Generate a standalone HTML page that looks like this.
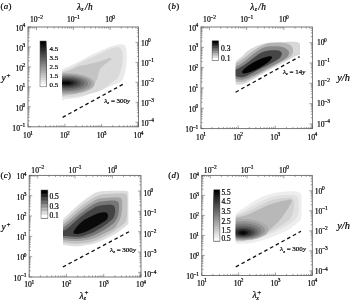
<!DOCTYPE html><html><head><meta charset="utf-8"><style>html,body{margin:0;padding:0;background:#fff;}svg{display:block;filter:grayscale(1);}text{stroke:#000;stroke-width:0.2px;}</style></head><body>
<svg width="350" height="301" viewBox="0 0 350 301" font-family='"Liberation Serif", serif'>
<rect width="350" height="301" fill="#fff"/>
<defs>
<clipPath id="cpa"><rect x="62.3" y="27" width="67.70" height="100.00"/></clipPath>
<clipPath id="cpb"><rect x="235.7" y="27" width="64.30" height="101.60"/></clipPath>
<clipPath id="cpc"><rect x="63.0" y="175.4" width="65.40" height="101.60"/></clipPath>
<clipPath id="cpd"><rect x="235.8" y="175.4" width="65.80" height="100.10"/></clipPath>
</defs>
<g clip-path="url(#cpa)" stroke="none">
<path d="M58.00 69.50 L58.18 68.44 L58.39 67.75 L58.62 67.38 L58.89 67.26 L59.18 67.35 L59.50 67.58 L59.85 67.91 L60.22 68.27 L60.62 68.62 L61.06 68.89 L61.51 69.04 L62.00 69.00 L62.52 68.84 L63.08 68.65 L63.67 68.45 L64.30 68.23 L64.95 67.98 L65.62 67.72 L66.32 67.45 L67.04 67.16 L67.77 66.86 L68.50 66.55 L69.25 66.23 L70.00 65.90 L70.76 65.56 L71.55 65.19 L72.36 64.82 L73.19 64.42 L74.02 64.02 L74.88 63.60 L75.73 63.18 L76.59 62.74 L77.45 62.31 L78.31 61.87 L79.16 61.44 L80.00 61.00 L80.83 60.56 L81.67 60.11 L82.50 59.64 L83.33 59.17 L84.17 58.70 L85.00 58.23 L85.83 57.75 L86.67 57.28 L87.50 56.82 L88.33 56.37 L89.17 55.93 L90.00 55.50 L90.84 55.09 L91.69 54.68 L92.55 54.28 L93.41 53.89 L94.27 53.50 L95.12 53.12 L95.98 52.75 L96.81 52.38 L97.64 52.02 L98.45 51.67 L99.24 51.33 L100.00 51.00 L100.74 50.68 L101.45 50.36 L102.15 50.05 L102.82 49.76 L103.49 49.46 L104.14 49.18 L104.78 48.90 L105.42 48.63 L106.06 48.37 L106.70 48.11 L107.35 47.85 L108.00 47.60 L108.67 47.35 L109.34 47.10 L110.03 46.85 L110.72 46.61 L111.41 46.37 L112.09 46.14 L112.76 45.92 L113.41 45.70 L114.05 45.50 L114.66 45.32 L115.25 45.15 L115.80 45.00 L116.32 44.86 L116.81 44.74 L117.28 44.63 L117.73 44.53 L118.16 44.44 L118.57 44.37 L118.96 44.31 L119.35 44.26 L119.72 44.22 L120.09 44.20 L120.44 44.19 L120.80 44.20 L121.15 44.22 L121.49 44.25 L121.82 44.30 L122.14 44.36 L122.45 44.43 L122.74 44.52 L123.03 44.62 L123.31 44.73 L123.57 44.85 L123.83 44.99 L124.07 45.14 L124.30 45.30 L124.52 45.47 L124.72 45.65 L124.92 45.83 L125.10 46.03 L125.27 46.23 L125.43 46.46 L125.58 46.69 L125.72 46.95 L125.85 47.23 L125.98 47.53 L126.09 47.85 L126.20 48.20 L126.30 48.57 L126.38 48.97 L126.46 49.39 L126.53 49.84 L126.58 50.30 L126.63 50.78 L126.67 51.28 L126.71 51.80 L126.74 52.33 L126.76 52.87 L126.78 53.43 L126.80 54.00 L126.81 54.59 L126.82 55.22 L126.82 55.88 L126.81 56.56 L126.80 57.25 L126.79 57.96 L126.77 58.66 L126.74 59.36 L126.71 60.05 L126.68 60.73 L126.64 61.38 L126.60 62.00 L126.56 62.60 L126.51 63.18 L126.45 63.75 L126.39 64.31 L126.33 64.87 L126.26 65.41 L126.19 65.94 L126.12 66.46 L126.04 66.98 L125.96 67.49 L125.88 68.00 L125.80 68.50 L125.72 68.99 L125.63 69.48 L125.54 69.95 L125.45 70.41 L125.36 70.87 L125.26 71.32 L125.16 71.77 L125.06 72.21 L124.95 72.66 L124.84 73.10 L124.72 73.55 L124.60 74.00 L124.48 74.46 L124.35 74.93 L124.23 75.41 L124.10 75.90 L123.97 76.38 L123.83 76.86 L123.69 77.33 L123.53 77.78 L123.37 78.22 L123.19 78.64 L123.00 79.03 L122.80 79.40 L122.59 79.73 L122.38 80.04 L122.16 80.32 L121.93 80.59 L121.70 80.83 L121.45 81.06 L121.18 81.29 L120.90 81.50 L120.59 81.72 L120.26 81.94 L119.90 82.16 L119.50 82.40 L119.08 82.63 L118.65 82.86 L118.20 83.07 L117.73 83.27 L117.23 83.48 L116.71 83.69 L116.16 83.90 L115.59 84.13 L114.97 84.36 L114.32 84.62 L113.63 84.90 L112.90 85.20 L112.11 85.53 L111.27 85.90 L110.37 86.29 L109.43 86.70 L108.45 87.12 L107.45 87.55 L106.43 87.98 L105.41 88.41 L104.38 88.84 L103.37 89.25 L102.37 89.64 L101.40 90.00 L100.43 90.34 L99.44 90.68 L98.44 91.00 L97.43 91.31 L96.42 91.62 L95.42 91.91 L94.43 92.20 L93.47 92.49 L92.54 92.77 L91.64 93.05 L90.80 93.32 L90.00 93.60 L89.27 93.87 L88.59 94.15 L87.96 94.42 L87.38 94.69 L86.82 94.95 L86.29 95.21 L85.76 95.47 L85.24 95.71 L84.72 95.95 L84.17 96.18 L83.60 96.39 L83.00 96.60 L82.37 96.80 L81.74 96.98 L81.09 97.16 L80.44 97.33 L79.79 97.49 L79.12 97.64 L78.45 97.79 L77.78 97.93 L77.09 98.06 L76.40 98.18 L75.70 98.29 L75.00 98.40 L74.28 98.50 L73.55 98.59 L72.80 98.66 L72.04 98.73 L71.27 98.79 L70.50 98.85 L69.73 98.90 L68.96 98.94 L68.20 98.99 L67.45 99.03 L66.72 99.06 L66.00 99.10 L65.27 99.23 L64.52 99.51 L63.74 99.89 L62.96 100.31 L62.19 100.74 L61.44 101.11 L60.72 101.37 L60.04 101.47 L59.41 101.37 L58.86 101.01 L58.38 100.34 L58.00 99.30 L57.71 97.77 L57.49 95.73 L57.34 93.27 L57.26 90.50 L57.23 87.53 L57.25 84.44 L57.31 81.36 L57.41 78.37 L57.53 75.59 L57.68 73.12 L57.83 71.05Z" fill="#eaeaea"/>
<path d="M58.00 71.00 L58.18 70.07 L58.39 69.48 L58.62 69.16 L58.89 69.08 L59.18 69.18 L59.50 69.41 L59.85 69.73 L60.22 70.07 L60.62 70.40 L61.06 70.67 L61.51 70.82 L62.00 70.80 L62.52 70.68 L63.08 70.54 L63.67 70.38 L64.30 70.21 L64.95 70.02 L65.62 69.81 L66.32 69.59 L67.04 69.35 L67.77 69.09 L68.50 68.81 L69.25 68.52 L70.00 68.20 L70.76 67.86 L71.55 67.48 L72.36 67.07 L73.19 66.64 L74.03 66.20 L74.88 65.74 L75.74 65.27 L76.60 64.80 L77.46 64.33 L78.32 63.87 L79.16 63.43 L80.00 63.00 L80.83 62.59 L81.65 62.17 L82.48 61.77 L83.30 61.36 L84.12 60.96 L84.94 60.56 L85.77 60.17 L86.59 59.77 L87.41 59.38 L88.24 58.98 L89.07 58.59 L89.90 58.20 L90.74 57.81 L91.58 57.42 L92.42 57.04 L93.26 56.65 L94.11 56.27 L94.96 55.89 L95.80 55.51 L96.65 55.13 L97.49 54.75 L98.33 54.36 L99.17 53.98 L100.00 53.60 L100.84 53.21 L101.70 52.80 L102.58 52.38 L103.46 51.96 L104.34 51.53 L105.21 51.11 L106.06 50.70 L106.89 50.31 L107.68 49.94 L108.44 49.59 L109.15 49.28 L109.80 49.00 L110.40 48.76 L110.95 48.54 L111.46 48.35 L111.93 48.19 L112.36 48.04 L112.78 47.91 L113.17 47.80 L113.54 47.70 L113.91 47.62 L114.27 47.54 L114.63 47.47 L115.00 47.40 L115.37 47.34 L115.73 47.28 L116.08 47.24 L116.42 47.21 L116.75 47.19 L117.07 47.17 L117.38 47.18 L117.68 47.19 L117.97 47.22 L118.26 47.27 L118.53 47.32 L118.80 47.40 L119.06 47.49 L119.31 47.60 L119.55 47.72 L119.78 47.86 L120.00 48.01 L120.21 48.18 L120.42 48.35 L120.61 48.54 L120.80 48.74 L120.97 48.95 L121.14 49.17 L121.30 49.40 L121.45 49.63 L121.59 49.87 L121.71 50.11 L121.83 50.36 L121.94 50.61 L122.04 50.89 L122.14 51.18 L122.22 51.49 L122.30 51.82 L122.37 52.18 L122.44 52.58 L122.50 53.00 L122.56 53.46 L122.60 53.97 L122.65 54.51 L122.68 55.08 L122.71 55.68 L122.73 56.29 L122.75 56.91 L122.75 57.54 L122.75 58.17 L122.74 58.79 L122.73 59.41 L122.70 60.00 L122.67 60.59 L122.62 61.18 L122.57 61.77 L122.51 62.37 L122.45 62.97 L122.38 63.56 L122.29 64.15 L122.21 64.74 L122.11 65.32 L122.01 65.89 L121.91 66.45 L121.80 67.00 L121.68 67.54 L121.56 68.06 L121.44 68.58 L121.30 69.10 L121.16 69.60 L121.02 70.10 L120.87 70.59 L120.71 71.08 L120.54 71.57 L120.37 72.05 L120.19 72.52 L120.00 73.00 L119.81 73.48 L119.62 73.95 L119.43 74.42 L119.23 74.90 L119.03 75.36 L118.81 75.83 L118.59 76.28 L118.35 76.73 L118.09 77.16 L117.82 77.59 L117.52 78.00 L117.20 78.40 L116.87 78.77 L116.53 79.11 L116.19 79.41 L115.84 79.70 L115.47 79.98 L115.08 80.26 L114.66 80.55 L114.21 80.85 L113.73 81.18 L113.20 81.54 L112.63 81.95 L112.00 82.40 L111.31 82.92 L110.57 83.50 L109.77 84.14 L108.93 84.81 L108.05 85.50 L107.14 86.21 L106.21 86.92 L105.27 87.61 L104.32 88.28 L103.37 88.91 L102.43 89.49 L101.50 90.00 L100.58 90.45 L99.64 90.87 L98.70 91.25 L97.75 91.59 L96.79 91.91 L95.83 92.21 L94.86 92.49 L93.89 92.76 L92.91 93.02 L91.94 93.28 L90.97 93.54 L90.00 93.80 L89.02 94.06 L88.02 94.32 L87.01 94.58 L85.99 94.82 L84.97 95.06 L83.95 95.29 L82.94 95.51 L81.96 95.71 L80.99 95.90 L80.06 96.08 L79.16 96.25 L78.30 96.40 L77.49 96.53 L76.72 96.65 L75.98 96.74 L75.27 96.83 L74.59 96.90 L73.92 96.96 L73.26 97.01 L72.62 97.05 L71.97 97.09 L71.33 97.13 L70.67 97.16 L70.00 97.20 L69.31 97.23 L68.60 97.26 L67.89 97.27 L67.16 97.29 L66.44 97.29 L65.73 97.29 L65.03 97.29 L64.36 97.29 L63.71 97.29 L63.10 97.29 L62.53 97.29 L62.00 97.30 L61.51 97.39 L61.06 97.62 L60.62 97.95 L60.22 98.31 L59.85 98.68 L59.50 99.01 L59.18 99.24 L58.89 99.33 L58.62 99.24 L58.39 98.92 L58.18 98.32 L58.00 97.40 L57.85 96.04 L57.72 94.23 L57.62 92.05 L57.56 89.59 L57.51 86.95 L57.50 84.22 L57.51 81.48 L57.56 78.84 L57.62 76.38 L57.72 74.19 L57.85 72.37Z" fill="#dadada"/>
<path d="M58.00 72.40 L58.18 71.59 L58.39 71.07 L58.62 70.80 L58.89 70.73 L59.18 70.82 L59.50 71.03 L59.85 71.31 L60.22 71.63 L60.62 71.92 L61.06 72.17 L61.51 72.30 L62.00 72.30 L62.53 72.20 L63.10 72.09 L63.72 71.96 L64.37 71.81 L65.05 71.65 L65.75 71.48 L66.46 71.30 L67.19 71.10 L67.91 70.89 L68.62 70.67 L69.32 70.44 L70.00 70.20 L70.67 69.94 L71.34 69.64 L72.02 69.31 L72.70 68.97 L73.37 68.62 L74.05 68.26 L74.72 67.90 L75.39 67.55 L76.06 67.22 L76.71 66.91 L77.36 66.64 L78.00 66.40 L78.63 66.20 L79.24 66.03 L79.84 65.89 L80.44 65.77 L81.03 65.67 L81.61 65.58 L82.20 65.49 L82.79 65.41 L83.38 65.32 L83.97 65.23 L84.58 65.12 L85.20 65.00 L85.83 64.87 L86.46 64.73 L87.09 64.59 L87.73 64.45 L88.37 64.31 L89.02 64.16 L89.67 64.01 L90.33 63.86 L90.99 63.70 L91.65 63.54 L92.32 63.37 L93.00 63.20 L93.69 63.02 L94.42 62.83 L95.16 62.63 L95.91 62.42 L96.67 62.21 L97.42 62.00 L98.17 61.79 L98.90 61.58 L99.60 61.37 L100.28 61.17 L100.91 60.98 L101.50 60.80 L102.04 60.63 L102.55 60.46 L103.03 60.29 L103.49 60.13 L103.91 59.97 L104.32 59.81 L104.71 59.66 L105.08 59.52 L105.44 59.38 L105.80 59.25 L106.15 59.12 L106.50 59.00 L106.84 58.88 L107.18 58.77 L107.50 58.65 L107.81 58.54 L108.12 58.44 L108.41 58.34 L108.68 58.25 L108.95 58.17 L109.21 58.10 L109.45 58.05 L109.68 58.02 L109.90 58.00 L110.12 58.00 L110.34 58.01 L110.56 58.03 L110.77 58.06 L110.97 58.10 L111.16 58.16 L111.32 58.23 L111.45 58.32 L111.55 58.42 L111.61 58.53 L111.63 58.66 L111.60 58.80 L111.52 58.96 L111.39 59.13 L111.22 59.33 L111.01 59.53 L110.77 59.75 L110.50 59.99 L110.20 60.23 L109.89 60.49 L109.56 60.75 L109.21 61.03 L108.86 61.31 L108.50 61.60 L108.12 61.90 L107.70 62.22 L107.24 62.56 L106.76 62.91 L106.26 63.27 L105.76 63.64 L105.25 64.01 L104.75 64.38 L104.27 64.75 L103.81 65.11 L103.39 65.46 L103.00 65.80 L102.65 66.13 L102.32 66.44 L102.00 66.75 L101.70 67.05 L101.42 67.35 L101.16 67.65 L100.90 67.95 L100.66 68.26 L100.43 68.57 L100.21 68.90 L100.00 69.24 L99.80 69.60 L99.61 69.97 L99.44 70.36 L99.29 70.76 L99.15 71.16 L99.02 71.58 L98.90 72.00 L98.79 72.43 L98.67 72.86 L98.56 73.29 L98.45 73.73 L98.33 74.17 L98.20 74.60 L98.07 75.04 L97.95 75.48 L97.84 75.94 L97.73 76.39 L97.61 76.85 L97.50 77.31 L97.38 77.77 L97.25 78.23 L97.11 78.68 L96.96 79.13 L96.79 79.57 L96.60 80.00 L96.41 80.42 L96.22 80.82 L96.03 81.22 L95.84 81.61 L95.63 82.00 L95.41 82.38 L95.17 82.77 L94.90 83.16 L94.59 83.55 L94.24 83.95 L93.85 84.37 L93.40 84.80 L92.90 85.25 L92.35 85.72 L91.75 86.21 L91.11 86.71 L90.44 87.22 L89.74 87.73 L89.01 88.24 L88.27 88.73 L87.51 89.21 L86.74 89.67 L85.97 90.10 L85.20 90.50 L84.42 90.88 L83.60 91.23 L82.76 91.58 L81.90 91.91 L81.03 92.22 L80.15 92.52 L79.27 92.80 L78.39 93.07 L77.51 93.32 L76.65 93.56 L75.81 93.79 L75.00 94.00 L74.20 94.19 L73.42 94.37 L72.64 94.53 L71.87 94.67 L71.11 94.79 L70.36 94.91 L69.62 95.01 L68.88 95.10 L68.15 95.18 L67.43 95.26 L66.71 95.33 L66.00 95.40 L65.27 95.53 L64.52 95.77 L63.74 96.08 L62.96 96.42 L62.19 96.75 L61.44 97.04 L60.72 97.24 L60.04 97.31 L59.41 97.22 L58.86 96.93 L58.38 96.41 L58.00 95.60 L57.71 94.41 L57.49 92.82 L57.34 90.90 L57.26 88.74 L57.23 86.42 L57.25 84.02 L57.31 81.61 L57.41 79.29 L57.53 77.12 L57.68 75.20 L57.83 73.60Z" fill="#c4c4c4"/>
<path d="M94.50 83.70 L94.44 84.39 L94.26 85.07 L93.95 85.75 L93.53 86.42 L92.99 87.08 L92.33 87.72 L91.56 88.34 L90.68 88.95 L89.70 89.53 L88.61 90.09 L87.43 90.62 L86.15 91.12 L84.79 91.59 L83.35 92.03 L81.83 92.43 L80.25 92.79 L78.61 93.12 L76.91 93.40 L75.16 93.64 L73.38 93.84 L71.56 94.00 L69.72 94.11 L67.86 94.18 L66.00 94.20 L64.14 94.18 L62.28 94.11 L60.44 94.00 L58.62 93.84 L56.84 93.64 L55.09 93.40 L53.39 93.12 L51.75 92.79 L50.17 92.43 L48.65 92.03 L47.21 91.59 L45.85 91.12 L44.57 90.62 L43.39 90.09 L42.30 89.53 L41.32 88.95 L40.44 88.34 L39.67 87.72 L39.01 87.08 L38.47 86.42 L38.05 85.75 L37.74 85.07 L37.56 84.39 L37.50 83.70 L37.56 83.01 L37.74 82.33 L38.05 81.65 L38.47 80.98 L39.01 80.32 L39.67 79.68 L40.44 79.06 L41.32 78.45 L42.30 77.87 L43.39 77.31 L44.57 76.78 L45.85 76.28 L47.21 75.81 L48.65 75.37 L50.17 74.97 L51.75 74.61 L53.39 74.28 L55.09 74.00 L56.84 73.76 L58.62 73.56 L60.44 73.40 L62.28 73.29 L64.14 73.22 L66.00 73.20 L67.86 73.22 L69.72 73.29 L71.56 73.40 L73.38 73.56 L75.16 73.76 L76.91 74.00 L78.61 74.28 L80.25 74.61 L81.83 74.97 L83.35 75.37 L84.79 75.81 L86.15 76.28 L87.43 76.78 L88.61 77.31 L89.70 77.87 L90.68 78.45 L91.56 79.06 L92.33 79.68 L92.99 80.32 L93.53 80.98 L93.95 81.65 L94.26 82.33 L94.44 83.01Z" fill="#acacac"/>
<path d="M91.30 83.55 L91.25 84.15 L91.08 84.74 L90.81 85.34 L90.44 85.92 L89.96 86.49 L89.37 87.05 L88.69 87.60 L87.91 88.13 L87.04 88.63 L86.07 89.12 L85.02 89.58 L83.89 90.02 L82.68 90.43 L81.40 90.81 L80.06 91.16 L78.65 91.47 L77.19 91.76 L75.68 92.00 L74.13 92.21 L72.55 92.39 L70.94 92.52 L69.30 92.62 L67.65 92.68 L66.00 92.70 L64.35 92.68 L62.70 92.62 L61.06 92.52 L59.45 92.39 L57.87 92.21 L56.32 92.00 L54.81 91.76 L53.35 91.47 L51.94 91.16 L50.60 90.81 L49.32 90.43 L48.11 90.02 L46.98 89.58 L45.93 89.12 L44.96 88.63 L44.09 88.13 L43.31 87.60 L42.63 87.05 L42.04 86.49 L41.56 85.92 L41.19 85.34 L40.92 84.74 L40.75 84.15 L40.70 83.55 L40.75 82.95 L40.92 82.36 L41.19 81.76 L41.56 81.18 L42.04 80.61 L42.63 80.05 L43.31 79.50 L44.09 78.98 L44.96 78.47 L45.93 77.98 L46.98 77.52 L48.11 77.08 L49.32 76.67 L50.60 76.29 L51.94 75.94 L53.35 75.63 L54.81 75.34 L56.32 75.10 L57.87 74.89 L59.45 74.71 L61.06 74.58 L62.70 74.48 L64.35 74.42 L66.00 74.40 L67.65 74.42 L69.30 74.48 L70.94 74.58 L72.55 74.71 L74.13 74.89 L75.68 75.10 L77.19 75.34 L78.65 75.63 L80.06 75.94 L81.40 76.29 L82.68 76.67 L83.89 77.08 L85.02 77.52 L86.07 77.98 L87.04 78.47 L87.91 78.98 L88.69 79.50 L89.37 80.05 L89.96 80.61 L90.44 81.18 L90.81 81.76 L91.08 82.36 L91.25 82.95Z" fill="#969696"/>
<path d="M88.00 83.40 L87.95 83.91 L87.81 84.42 L87.58 84.92 L87.25 85.42 L86.83 85.91 L86.33 86.38 L85.73 86.85 L85.05 87.30 L84.29 87.73 L83.45 88.15 L82.54 88.54 L81.56 88.92 L80.51 89.26 L79.39 89.59 L78.22 89.89 L77.00 90.15 L75.73 90.40 L74.42 90.61 L73.07 90.79 L71.69 90.93 L70.29 91.05 L68.87 91.13 L67.44 91.18 L66.00 91.20 L64.56 91.18 L63.13 91.13 L61.71 91.05 L60.31 90.93 L58.93 90.79 L57.58 90.61 L56.27 90.40 L55.00 90.15 L53.78 89.89 L52.61 89.59 L51.49 89.26 L50.44 88.92 L49.46 88.54 L48.55 88.15 L47.71 87.73 L46.95 87.30 L46.27 86.85 L45.67 86.38 L45.17 85.91 L44.75 85.42 L44.42 84.92 L44.19 84.42 L44.05 83.91 L44.00 83.40 L44.05 82.89 L44.19 82.38 L44.42 81.88 L44.75 81.38 L45.17 80.89 L45.67 80.42 L46.27 79.95 L46.95 79.50 L47.71 79.07 L48.55 78.65 L49.46 78.26 L50.44 77.88 L51.49 77.54 L52.61 77.21 L53.78 76.91 L55.00 76.65 L56.27 76.40 L57.58 76.19 L58.93 76.01 L60.31 75.87 L61.71 75.75 L63.13 75.67 L64.56 75.62 L66.00 75.60 L67.44 75.62 L68.87 75.67 L70.29 75.75 L71.69 75.87 L73.07 76.01 L74.42 76.19 L75.73 76.40 L77.00 76.65 L78.22 76.91 L79.39 77.21 L80.51 77.54 L81.56 77.88 L82.54 78.26 L83.45 78.65 L84.29 79.07 L85.05 79.50 L85.73 79.95 L86.33 80.42 L86.83 80.89 L87.25 81.38 L87.58 81.88 L87.81 82.38 L87.95 82.89Z" fill="#7e7e7e"/>
<path d="M84.50 83.25 L84.46 83.67 L84.34 84.09 L84.14 84.51 L83.87 84.92 L83.52 85.32 L83.09 85.72 L82.59 86.10 L82.02 86.47 L81.38 86.83 L80.68 87.18 L79.91 87.50 L79.08 87.81 L78.20 88.10 L77.26 88.37 L76.28 88.61 L75.25 88.84 L74.18 89.03 L73.08 89.21 L71.95 89.36 L70.79 89.48 L69.61 89.58 L68.41 89.64 L67.21 89.69 L66.00 89.70 L64.79 89.69 L63.59 89.64 L62.39 89.58 L61.21 89.48 L60.05 89.36 L58.92 89.21 L57.82 89.03 L56.75 88.84 L55.72 88.61 L54.74 88.37 L53.80 88.10 L52.92 87.81 L52.09 87.50 L51.32 87.18 L50.62 86.83 L49.98 86.48 L49.41 86.10 L48.91 85.72 L48.48 85.32 L48.13 84.92 L47.86 84.51 L47.66 84.09 L47.54 83.67 L47.50 83.25 L47.54 82.83 L47.66 82.41 L47.86 81.99 L48.13 81.58 L48.48 81.18 L48.91 80.78 L49.41 80.40 L49.98 80.03 L50.62 79.67 L51.32 79.32 L52.09 79.00 L52.92 78.69 L53.80 78.40 L54.74 78.13 L55.72 77.89 L56.75 77.66 L57.82 77.47 L58.92 77.29 L60.05 77.14 L61.21 77.02 L62.39 76.92 L63.59 76.86 L64.79 76.81 L66.00 76.80 L67.21 76.81 L68.41 76.86 L69.61 76.92 L70.79 77.02 L71.95 77.14 L73.08 77.29 L74.18 77.47 L75.25 77.66 L76.28 77.89 L77.26 78.13 L78.20 78.40 L79.08 78.69 L79.91 79.00 L80.68 79.32 L81.38 79.67 L82.02 80.02 L82.59 80.40 L83.09 80.78 L83.52 81.18 L83.87 81.58 L84.14 81.99 L84.34 82.41 L84.46 82.83Z" fill="#666666"/>
<path d="M81.00 83.10 L80.97 83.43 L80.87 83.77 L80.71 84.09 L80.49 84.42 L80.20 84.74 L79.86 85.05 L79.45 85.36 L78.99 85.65 L78.47 85.93 L77.90 86.20 L77.28 86.46 L76.61 86.71 L75.89 86.93 L75.13 87.15 L74.33 87.34 L73.50 87.52 L72.63 87.67 L71.74 87.81 L70.82 87.93 L69.88 88.03 L68.93 88.10 L67.96 88.16 L66.98 88.19 L66.00 88.20 L65.02 88.19 L64.04 88.16 L63.07 88.10 L62.12 88.03 L61.18 87.93 L60.26 87.81 L59.37 87.67 L58.50 87.52 L57.67 87.34 L56.87 87.15 L56.11 86.93 L55.39 86.71 L54.72 86.46 L54.10 86.20 L53.53 85.93 L53.01 85.65 L52.55 85.36 L52.14 85.05 L51.80 84.74 L51.51 84.42 L51.29 84.09 L51.13 83.77 L51.03 83.43 L51.00 83.10 L51.03 82.77 L51.13 82.43 L51.29 82.11 L51.51 81.78 L51.80 81.46 L52.14 81.15 L52.55 80.84 L53.01 80.55 L53.53 80.27 L54.10 80.00 L54.72 79.74 L55.39 79.49 L56.11 79.27 L56.87 79.05 L57.67 78.86 L58.50 78.68 L59.37 78.53 L60.26 78.39 L61.18 78.27 L62.12 78.17 L63.07 78.10 L64.04 78.04 L65.02 78.01 L66.00 78.00 L66.98 78.01 L67.96 78.04 L68.93 78.10 L69.88 78.17 L70.82 78.27 L71.74 78.39 L72.63 78.53 L73.50 78.68 L74.33 78.86 L75.13 79.05 L75.89 79.27 L76.61 79.49 L77.28 79.74 L77.90 80.00 L78.47 80.27 L78.99 80.55 L79.45 80.84 L79.86 81.15 L80.20 81.46 L80.49 81.78 L80.71 82.11 L80.87 82.43 L80.97 82.77Z" fill="#4e4e4e"/>
<path d="M77.50 83.00 L77.48 83.25 L77.40 83.50 L77.28 83.74 L77.11 83.98 L76.89 84.22 L76.62 84.45 L76.31 84.68 L75.96 84.90 L75.56 85.11 L75.12 85.31 L74.65 85.51 L74.13 85.69 L73.58 85.86 L73.00 86.01 L72.39 86.16 L71.75 86.29 L71.09 86.41 L70.40 86.51 L69.70 86.60 L68.98 86.67 L68.24 86.73 L67.50 86.77 L66.75 86.79 L66.00 86.80 L65.25 86.79 L64.50 86.77 L63.76 86.73 L63.02 86.67 L62.30 86.60 L61.60 86.51 L60.91 86.41 L60.25 86.29 L59.61 86.16 L59.00 86.01 L58.42 85.86 L57.87 85.69 L57.35 85.51 L56.88 85.31 L56.44 85.11 L56.04 84.90 L55.69 84.68 L55.38 84.45 L55.11 84.22 L54.89 83.98 L54.72 83.74 L54.60 83.50 L54.52 83.25 L54.50 83.00 L54.52 82.75 L54.60 82.50 L54.72 82.26 L54.89 82.02 L55.11 81.78 L55.38 81.55 L55.69 81.32 L56.04 81.10 L56.44 80.89 L56.88 80.69 L57.35 80.49 L57.87 80.31 L58.42 80.14 L59.00 79.99 L59.61 79.84 L60.25 79.71 L60.91 79.59 L61.60 79.49 L62.30 79.40 L63.02 79.33 L63.76 79.27 L64.50 79.23 L65.25 79.21 L66.00 79.20 L66.75 79.21 L67.50 79.23 L68.24 79.27 L68.98 79.33 L69.70 79.40 L70.40 79.49 L71.09 79.59 L71.75 79.71 L72.39 79.84 L73.00 79.99 L73.58 80.14 L74.13 80.31 L74.65 80.49 L75.12 80.69 L75.56 80.89 L75.96 81.10 L76.31 81.32 L76.62 81.55 L76.89 81.78 L77.11 82.02 L77.28 82.26 L77.40 82.50 L77.48 82.75Z" fill="#363636"/>
<path d="M74.00 82.95 L73.98 83.12 L73.93 83.28 L73.85 83.45 L73.73 83.61 L73.58 83.77 L73.39 83.93 L73.17 84.08 L72.93 84.22 L72.65 84.37 L72.35 84.50 L72.01 84.63 L71.66 84.75 L71.27 84.87 L70.87 84.97 L70.44 85.07 L70.00 85.16 L69.54 85.24 L69.06 85.31 L68.57 85.36 L68.07 85.41 L67.56 85.45 L67.04 85.48 L66.52 85.49 L66.00 85.50 L65.48 85.49 L64.96 85.48 L64.44 85.45 L63.93 85.41 L63.43 85.36 L62.94 85.31 L62.46 85.24 L62.00 85.16 L61.56 85.07 L61.13 84.97 L60.73 84.87 L60.34 84.75 L59.99 84.63 L59.65 84.50 L59.35 84.37 L59.07 84.23 L58.83 84.08 L58.61 83.93 L58.42 83.77 L58.27 83.61 L58.15 83.45 L58.07 83.28 L58.02 83.12 L58.00 82.95 L58.02 82.78 L58.07 82.62 L58.15 82.45 L58.27 82.29 L58.42 82.13 L58.61 81.97 L58.83 81.82 L59.07 81.68 L59.35 81.53 L59.65 81.40 L59.99 81.27 L60.34 81.15 L60.73 81.03 L61.13 80.93 L61.56 80.83 L62.00 80.74 L62.46 80.66 L62.94 80.59 L63.43 80.54 L63.93 80.49 L64.44 80.45 L64.96 80.42 L65.48 80.41 L66.00 80.40 L66.52 80.41 L67.04 80.42 L67.56 80.45 L68.07 80.49 L68.57 80.54 L69.06 80.59 L69.54 80.66 L70.00 80.74 L70.44 80.83 L70.87 80.93 L71.27 81.03 L71.66 81.15 L72.01 81.27 L72.35 81.40 L72.65 81.53 L72.93 81.67 L73.17 81.82 L73.39 81.97 L73.58 82.13 L73.73 82.29 L73.85 82.45 L73.93 82.62 L73.98 82.78Z" fill="#1e1e1e"/>
<path d="M71.00 83.10 L70.99 83.20 L70.96 83.30 L70.90 83.39 L70.83 83.49 L70.73 83.58 L70.62 83.67 L70.48 83.76 L70.33 83.85 L70.16 83.93 L69.97 84.01 L69.76 84.09 L69.54 84.16 L69.30 84.23 L69.04 84.29 L68.78 84.35 L68.50 84.40 L68.21 84.45 L67.91 84.49 L67.61 84.52 L67.29 84.55 L66.98 84.57 L66.65 84.59 L66.33 84.60 L66.00 84.60 L65.67 84.60 L65.35 84.59 L65.02 84.57 L64.71 84.55 L64.39 84.52 L64.09 84.49 L63.79 84.45 L63.50 84.40 L63.22 84.35 L62.96 84.29 L62.70 84.23 L62.46 84.16 L62.24 84.09 L62.03 84.01 L61.84 83.93 L61.67 83.85 L61.52 83.76 L61.38 83.67 L61.27 83.58 L61.17 83.49 L61.10 83.39 L61.04 83.30 L61.01 83.20 L61.00 83.10 L61.01 83.00 L61.04 82.90 L61.10 82.81 L61.17 82.71 L61.27 82.62 L61.38 82.53 L61.52 82.44 L61.67 82.35 L61.84 82.27 L62.03 82.19 L62.24 82.11 L62.46 82.04 L62.70 81.97 L62.96 81.91 L63.22 81.85 L63.50 81.80 L63.79 81.75 L64.09 81.71 L64.39 81.68 L64.71 81.65 L65.02 81.63 L65.35 81.61 L65.67 81.60 L66.00 81.60 L66.33 81.60 L66.65 81.61 L66.98 81.63 L67.29 81.65 L67.61 81.68 L67.91 81.71 L68.21 81.75 L68.50 81.80 L68.78 81.85 L69.04 81.91 L69.30 81.97 L69.54 82.04 L69.76 82.11 L69.97 82.19 L70.16 82.27 L70.33 82.35 L70.48 82.44 L70.62 82.53 L70.73 82.62 L70.83 82.71 L70.90 82.81 L70.96 82.90 L70.99 83.00Z" fill="#080808"/>
</g>
<g clip-path="url(#cpb)" stroke="none">
<path d="M231.00 64.50 L231.20 63.68 L231.45 63.08 L231.74 62.65 L232.07 62.37 L232.43 62.22 L232.81 62.16 L233.20 62.15 L233.59 62.18 L233.98 62.21 L234.34 62.21 L234.69 62.15 L235.00 62.00 L235.28 61.80 L235.54 61.61 L235.78 61.43 L236.00 61.25 L236.22 61.07 L236.44 60.89 L236.67 60.71 L236.90 60.51 L237.14 60.31 L237.40 60.09 L237.69 59.86 L238.00 59.60 L238.35 59.32 L238.72 59.02 L239.13 58.70 L239.55 58.37 L239.98 58.03 L240.42 57.67 L240.87 57.32 L241.31 56.96 L241.74 56.61 L242.15 56.26 L242.54 55.92 L242.90 55.60 L243.23 55.29 L243.53 54.97 L243.82 54.67 L244.08 54.36 L244.34 54.06 L244.59 53.76 L244.84 53.47 L245.10 53.17 L245.37 52.88 L245.65 52.58 L245.96 52.29 L246.30 52.00 L246.67 51.71 L247.05 51.41 L247.45 51.12 L247.87 50.82 L248.30 50.53 L248.74 50.24 L249.18 49.95 L249.63 49.67 L250.08 49.39 L250.52 49.12 L250.97 48.85 L251.40 48.60 L251.83 48.35 L252.26 48.11 L252.69 47.88 L253.12 47.64 L253.55 47.42 L253.98 47.20 L254.41 46.99 L254.85 46.78 L255.28 46.58 L255.72 46.38 L256.16 46.19 L256.60 46.00 L257.04 45.82 L257.48 45.65 L257.92 45.48 L258.36 45.33 L258.81 45.17 L259.25 45.02 L259.70 44.88 L260.15 44.74 L260.60 44.60 L261.06 44.47 L261.53 44.33 L262.00 44.20 L262.48 44.07 L262.95 43.94 L263.43 43.81 L263.92 43.68 L264.41 43.55 L264.90 43.43 L265.40 43.31 L265.90 43.20 L266.42 43.09 L266.94 42.99 L267.46 42.89 L268.00 42.80 L268.54 42.72 L269.07 42.64 L269.61 42.56 L270.15 42.50 L270.69 42.43 L271.25 42.38 L271.82 42.32 L272.41 42.27 L273.02 42.22 L273.65 42.18 L274.31 42.14 L275.00 42.10 L275.72 42.07 L276.48 42.04 L277.26 42.01 L278.07 41.99 L278.89 41.97 L279.74 41.96 L280.60 41.94 L281.47 41.93 L282.35 41.92 L283.23 41.92 L284.12 41.91 L285.00 41.90 L285.92 41.89 L286.89 41.87 L287.91 41.86 L288.95 41.84 L290.00 41.82 L291.04 41.81 L292.05 41.80 L293.03 41.80 L293.95 41.80 L294.79 41.82 L295.55 41.85 L296.20 41.90 L296.74 41.96 L297.18 42.02 L297.53 42.10 L297.81 42.18 L298.04 42.27 L298.23 42.38 L298.38 42.49 L298.52 42.61 L298.66 42.74 L298.81 42.88 L298.98 43.04 L299.20 43.20 L299.45 43.37 L299.70 43.54 L299.96 43.72 L300.21 43.90 L300.47 44.10 L300.72 44.31 L300.97 44.53 L301.21 44.77 L301.43 45.04 L301.64 45.33 L301.83 45.65 L302.00 46.00 L302.16 46.40 L302.32 46.85 L302.47 47.35 L302.61 47.89 L302.75 48.45 L302.86 49.01 L302.96 49.58 L303.03 50.13 L303.07 50.66 L303.09 51.16 L303.06 51.61 L303.00 52.00 L302.89 52.34 L302.74 52.64 L302.55 52.92 L302.33 53.16 L302.08 53.39 L301.81 53.59 L301.52 53.77 L301.22 53.95 L300.91 54.11 L300.60 54.28 L300.30 54.44 L300.00 54.60 L299.71 54.75 L299.44 54.87 L299.17 54.97 L298.89 55.05 L298.61 55.12 L298.32 55.19 L298.01 55.27 L297.67 55.36 L297.31 55.47 L296.92 55.61 L296.48 55.79 L296.00 56.00 L295.48 56.25 L294.93 56.53 L294.34 56.83 L293.73 57.16 L293.09 57.50 L292.42 57.86 L291.72 58.24 L291.00 58.63 L290.26 59.04 L289.49 59.45 L288.71 59.87 L287.90 60.30 L287.06 60.74 L286.18 61.20 L285.26 61.68 L284.31 62.17 L283.34 62.67 L282.36 63.19 L281.36 63.71 L280.35 64.23 L279.35 64.75 L278.35 65.27 L277.37 65.79 L276.40 66.30 L275.44 66.81 L274.48 67.31 L273.51 67.83 L272.54 68.34 L271.57 68.85 L270.61 69.36 L269.65 69.87 L268.69 70.39 L267.75 70.89 L266.82 71.40 L265.90 71.90 L265.00 72.40 L264.12 72.90 L263.25 73.39 L262.40 73.89 L261.56 74.38 L260.73 74.87 L259.91 75.36 L259.10 75.84 L258.28 76.32 L257.47 76.80 L256.65 77.27 L255.83 77.74 L255.00 78.20 L254.15 78.67 L253.28 79.15 L252.38 79.64 L251.48 80.13 L250.58 80.61 L249.69 81.09 L248.81 81.55 L247.96 81.99 L247.15 82.40 L246.38 82.77 L245.66 83.11 L245.00 83.40 L244.41 83.64 L243.88 83.85 L243.40 84.01 L242.96 84.15 L242.56 84.25 L242.19 84.34 L241.83 84.40 L241.48 84.45 L241.13 84.49 L240.78 84.53 L240.40 84.56 L240.00 84.60 L239.58 84.63 L239.16 84.65 L238.73 84.64 L238.30 84.63 L237.87 84.61 L237.44 84.57 L237.01 84.54 L236.59 84.50 L236.18 84.47 L235.78 84.44 L235.38 84.41 L235.00 84.40 L234.62 84.46 L234.23 84.62 L233.84 84.85 L233.44 85.12 L233.06 85.39 L232.69 85.63 L232.33 85.80 L232.00 85.87 L231.70 85.79 L231.42 85.55 L231.19 85.10 L231.00 84.40 L230.85 83.38 L230.72 82.03 L230.62 80.42 L230.56 78.60 L230.51 76.64 L230.50 74.61 L230.51 72.57 L230.56 70.58 L230.62 68.72 L230.72 67.04 L230.85 65.61Z" fill="#d8d8d8"/>
<path d="M231.00 64.00 L231.20 63.38 L231.45 62.97 L231.74 62.74 L232.07 62.66 L232.43 62.69 L232.81 62.81 L233.20 62.99 L233.59 63.19 L233.98 63.38 L234.34 63.53 L234.69 63.61 L235.00 63.60 L235.28 63.52 L235.55 63.44 L235.80 63.35 L236.04 63.26 L236.27 63.16 L236.50 63.05 L236.73 62.93 L236.96 62.81 L237.20 62.67 L237.45 62.53 L237.72 62.37 L238.00 62.20 L238.30 62.02 L238.60 61.83 L238.91 61.62 L239.22 61.41 L239.55 61.18 L239.88 60.95 L240.21 60.71 L240.56 60.46 L240.91 60.20 L241.26 59.94 L241.63 59.67 L242.00 59.40 L242.38 59.12 L242.76 58.83 L243.16 58.54 L243.56 58.24 L243.96 57.93 L244.38 57.61 L244.80 57.29 L245.22 56.96 L245.66 56.63 L246.10 56.29 L246.55 55.95 L247.00 55.60 L247.47 55.24 L247.95 54.86 L248.45 54.47 L248.96 54.07 L249.48 53.67 L250.00 53.26 L250.52 52.86 L251.04 52.46 L251.55 52.07 L252.05 51.69 L252.53 51.34 L253.00 51.00 L253.45 50.68 L253.90 50.37 L254.34 50.08 L254.78 49.79 L255.20 49.51 L255.62 49.24 L256.04 48.98 L256.44 48.73 L256.84 48.49 L257.24 48.25 L257.62 48.02 L258.00 47.80 L258.37 47.59 L258.72 47.38 L259.06 47.19 L259.39 47.01 L259.72 46.84 L260.04 46.67 L260.36 46.51 L260.67 46.34 L261.00 46.19 L261.32 46.03 L261.66 45.86 L262.00 45.70 L262.35 45.53 L262.70 45.36 L263.04 45.19 L263.39 45.01 L263.74 44.84 L264.10 44.67 L264.46 44.50 L264.83 44.34 L265.21 44.19 L265.59 44.05 L265.99 43.92 L266.40 43.80 L266.81 43.69 L267.19 43.59 L267.57 43.50 L267.96 43.42 L268.34 43.35 L268.75 43.28 L269.18 43.22 L269.64 43.17 L270.15 43.12 L270.71 43.07 L271.32 43.04 L272.00 43.00 L272.77 42.97 L273.65 42.94 L274.61 42.91 L275.63 42.88 L276.70 42.86 L277.78 42.85 L278.87 42.85 L279.93 42.85 L280.96 42.87 L281.93 42.90 L282.81 42.94 L283.60 43.00 L284.30 43.07 L284.95 43.15 L285.54 43.25 L286.09 43.35 L286.60 43.46 L287.08 43.59 L287.53 43.72 L287.95 43.87 L288.36 44.04 L288.74 44.21 L289.12 44.40 L289.50 44.60 L289.87 44.82 L290.21 45.05 L290.54 45.30 L290.85 45.56 L291.14 45.83 L291.41 46.12 L291.66 46.41 L291.89 46.72 L292.09 47.03 L292.28 47.35 L292.45 47.67 L292.60 48.00 L292.72 48.34 L292.82 48.70 L292.90 49.07 L292.96 49.46 L292.99 49.85 L293.01 50.24 L293.01 50.64 L292.99 51.03 L292.96 51.42 L292.92 51.80 L292.86 52.16 L292.80 52.50 L292.72 52.83 L292.63 53.15 L292.52 53.47 L292.40 53.78 L292.26 54.08 L292.11 54.38 L291.94 54.67 L291.77 54.95 L291.59 55.23 L291.40 55.49 L291.20 55.75 L291.00 56.00 L290.81 56.23 L290.66 56.42 L290.51 56.59 L290.37 56.74 L290.23 56.89 L290.06 57.03 L289.85 57.19 L289.60 57.36 L289.30 57.56 L288.92 57.79 L288.46 58.07 L287.90 58.40 L287.24 58.78 L286.47 59.21 L285.61 59.68 L284.69 60.18 L283.70 60.70 L282.67 61.25 L281.61 61.81 L280.54 62.38 L279.46 62.95 L278.41 63.51 L277.38 64.06 L276.40 64.60 L275.44 65.13 L274.46 65.68 L273.47 66.23 L272.48 66.79 L271.49 67.34 L270.51 67.90 L269.53 68.45 L268.57 68.99 L267.64 69.52 L266.73 70.04 L265.84 70.53 L265.00 71.00 L264.21 71.44 L263.46 71.86 L262.76 72.25 L262.10 72.63 L261.45 72.99 L260.81 73.35 L260.17 73.70 L259.53 74.06 L258.85 74.42 L258.15 74.80 L257.40 75.19 L256.60 75.60 L255.72 76.05 L254.78 76.53 L253.77 77.04 L252.73 77.57 L251.66 78.11 L250.59 78.64 L249.53 79.16 L248.50 79.65 L247.51 80.11 L246.59 80.53 L245.75 80.90 L245.00 81.20 L244.35 81.44 L243.78 81.63 L243.29 81.78 L242.84 81.88 L242.45 81.95 L242.09 82.00 L241.75 82.02 L241.42 82.03 L241.10 82.03 L240.76 82.01 L240.40 82.00 L240.00 82.00 L239.58 81.99 L239.16 81.95 L238.73 81.89 L238.30 81.82 L237.87 81.74 L237.44 81.65 L237.01 81.56 L236.59 81.47 L236.18 81.38 L235.78 81.31 L235.38 81.24 L235.00 81.20 L234.62 81.23 L234.23 81.35 L233.84 81.55 L233.44 81.78 L233.06 82.01 L232.69 82.22 L232.33 82.38 L232.00 82.44 L231.70 82.39 L231.42 82.19 L231.19 81.80 L231.00 81.20 L230.85 80.32 L230.72 79.13 L230.62 77.72 L230.56 76.12 L230.51 74.40 L230.50 72.62 L230.51 70.85 L230.56 69.13 L230.62 67.52 L230.72 66.09 L230.85 64.90Z" fill="#b4b4b4"/>
<path d="M231.00 67.20 L231.20 66.78 L231.45 66.51 L231.74 66.35 L232.07 66.30 L232.43 66.32 L232.81 66.41 L233.20 66.52 L233.59 66.66 L233.98 66.78 L234.34 66.88 L234.69 66.92 L235.00 66.90 L235.28 66.83 L235.53 66.76 L235.77 66.69 L236.00 66.61 L236.22 66.53 L236.44 66.43 L236.66 66.33 L236.89 66.21 L237.13 66.08 L237.40 65.94 L237.68 65.78 L238.00 65.60 L238.35 65.40 L238.72 65.19 L239.11 64.95 L239.52 64.70 L239.94 64.44 L240.38 64.17 L240.82 63.89 L241.26 63.60 L241.70 63.30 L242.14 63.00 L242.58 62.70 L243.00 62.40 L243.42 62.09 L243.83 61.78 L244.25 61.46 L244.67 61.13 L245.08 60.80 L245.50 60.46 L245.92 60.11 L246.33 59.77 L246.75 59.43 L247.17 59.08 L247.58 58.74 L248.00 58.40 L248.42 58.06 L248.83 57.72 L249.25 57.37 L249.67 57.02 L250.08 56.67 L250.50 56.32 L250.92 55.97 L251.33 55.63 L251.75 55.29 L252.17 54.95 L252.58 54.62 L253.00 54.30 L253.42 53.98 L253.84 53.67 L254.27 53.36 L254.70 53.05 L255.13 52.74 L255.56 52.44 L255.99 52.15 L256.41 51.86 L256.82 51.58 L257.22 51.31 L257.62 51.05 L258.00 50.80 L258.37 50.56 L258.72 50.33 L259.06 50.10 L259.39 49.89 L259.72 49.68 L260.04 49.47 L260.36 49.28 L260.67 49.09 L261.00 48.91 L261.32 48.74 L261.66 48.56 L262.00 48.40 L262.35 48.24 L262.70 48.09 L263.04 47.94 L263.39 47.80 L263.74 47.67 L264.10 47.54 L264.46 47.42 L264.83 47.31 L265.21 47.20 L265.59 47.09 L265.99 46.99 L266.40 46.90 L266.82 46.81 L267.26 46.73 L267.71 46.65 L268.17 46.58 L268.63 46.51 L269.11 46.45 L269.58 46.39 L270.07 46.34 L270.55 46.30 L271.04 46.26 L271.52 46.23 L272.00 46.20 L272.48 46.18 L272.98 46.16 L273.47 46.15 L273.97 46.14 L274.48 46.14 L274.98 46.15 L275.48 46.16 L275.98 46.18 L276.47 46.20 L276.96 46.23 L277.44 46.26 L277.90 46.30 L278.36 46.34 L278.81 46.39 L279.26 46.44 L279.71 46.50 L280.15 46.56 L280.58 46.63 L281.01 46.71 L281.43 46.79 L281.84 46.88 L282.23 46.98 L282.62 47.08 L283.00 47.20 L283.37 47.32 L283.73 47.46 L284.08 47.59 L284.42 47.74 L284.76 47.89 L285.08 48.06 L285.40 48.23 L285.70 48.40 L285.99 48.59 L286.27 48.78 L286.54 48.99 L286.80 49.20 L287.05 49.42 L287.30 49.65 L287.55 49.90 L287.79 50.15 L288.01 50.41 L288.23 50.68 L288.42 50.95 L288.59 51.23 L288.74 51.52 L288.86 51.81 L288.95 52.10 L289.00 52.40 L289.02 52.71 L289.00 53.03 L288.95 53.37 L288.88 53.71 L288.78 54.06 L288.66 54.41 L288.52 54.76 L288.36 55.11 L288.19 55.45 L288.00 55.78 L287.81 56.10 L287.60 56.40 L287.38 56.68 L287.16 56.95 L286.91 57.21 L286.66 57.46 L286.38 57.70 L286.09 57.93 L285.79 58.17 L285.47 58.40 L285.13 58.64 L284.77 58.88 L284.39 59.14 L284.00 59.40 L283.60 59.67 L283.19 59.93 L282.78 60.19 L282.35 60.45 L281.91 60.71 L281.44 60.98 L280.95 61.26 L280.43 61.55 L279.86 61.86 L279.26 62.18 L278.61 62.53 L277.90 62.90 L277.13 63.30 L276.28 63.73 L275.36 64.18 L274.40 64.65 L273.41 65.13 L272.38 65.63 L271.34 66.13 L270.31 66.64 L269.28 67.14 L268.28 67.64 L267.32 68.13 L266.40 68.60 L265.53 69.06 L264.69 69.52 L263.87 69.98 L263.07 70.44 L262.29 70.89 L261.51 71.34 L260.72 71.79 L259.94 72.24 L259.14 72.69 L258.32 73.13 L257.47 73.56 L256.60 74.00 L255.68 74.44 L254.69 74.91 L253.67 75.38 L252.62 75.86 L251.56 76.33 L250.50 76.80 L249.46 77.25 L248.44 77.67 L247.48 78.07 L246.57 78.43 L245.74 78.74 L245.00 79.00 L244.35 79.21 L243.78 79.37 L243.29 79.49 L242.84 79.58 L242.45 79.63 L242.09 79.66 L241.75 79.67 L241.42 79.67 L241.10 79.65 L240.76 79.63 L240.40 79.61 L240.00 79.60 L239.58 79.58 L239.16 79.54 L238.73 79.48 L238.30 79.41 L237.87 79.33 L237.44 79.24 L237.01 79.15 L236.59 79.06 L236.18 78.98 L235.78 78.90 L235.38 78.84 L235.00 78.80 L234.62 78.81 L234.23 78.89 L233.84 79.02 L233.44 79.17 L233.06 79.33 L232.69 79.47 L232.33 79.58 L232.00 79.63 L231.70 79.60 L231.42 79.46 L231.19 79.20 L231.00 78.80 L230.85 78.20 L230.72 77.41 L230.62 76.45 L230.56 75.37 L230.51 74.22 L230.50 73.02 L230.51 71.82 L230.56 70.66 L230.62 69.58 L230.72 68.61 L230.85 67.81Z" fill="#888888"/>
<path d="M231.00 69.90 L231.20 69.67 L231.45 69.51 L231.74 69.42 L232.07 69.38 L232.43 69.39 L232.81 69.42 L233.20 69.47 L233.59 69.53 L233.98 69.58 L234.34 69.62 L234.69 69.63 L235.00 69.60 L235.28 69.55 L235.53 69.49 L235.77 69.44 L236.00 69.39 L236.22 69.32 L236.44 69.26 L236.66 69.18 L236.89 69.09 L237.13 68.99 L237.40 68.88 L237.68 68.75 L238.00 68.60 L238.35 68.43 L238.72 68.25 L239.11 68.05 L239.52 67.83 L239.94 67.60 L240.38 67.36 L240.82 67.11 L241.26 66.86 L241.70 66.60 L242.14 66.33 L242.58 66.07 L243.00 65.80 L243.42 65.53 L243.83 65.25 L244.25 64.96 L244.67 64.67 L245.08 64.37 L245.50 64.07 L245.92 63.76 L246.33 63.45 L246.75 63.14 L247.17 62.83 L247.58 62.51 L248.00 62.20 L248.42 61.88 L248.83 61.57 L249.25 61.24 L249.67 60.91 L250.08 60.59 L250.50 60.26 L250.92 59.93 L251.33 59.60 L251.75 59.27 L252.17 58.94 L252.58 58.62 L253.00 58.30 L253.42 57.98 L253.84 57.66 L254.27 57.33 L254.70 57.00 L255.13 56.67 L255.56 56.35 L255.99 56.03 L256.41 55.72 L256.82 55.42 L257.22 55.13 L257.62 54.86 L258.00 54.60 L258.37 54.36 L258.72 54.13 L259.06 53.91 L259.39 53.70 L259.72 53.50 L260.04 53.31 L260.36 53.12 L260.67 52.95 L261.00 52.78 L261.32 52.62 L261.66 52.46 L262.00 52.30 L262.35 52.15 L262.70 52.01 L263.04 51.87 L263.39 51.74 L263.74 51.62 L264.10 51.50 L264.46 51.39 L264.83 51.28 L265.21 51.18 L265.59 51.08 L265.99 50.99 L266.40 50.90 L266.82 50.81 L267.26 50.73 L267.71 50.66 L268.17 50.59 L268.63 50.52 L269.11 50.46 L269.58 50.40 L270.07 50.35 L270.55 50.30 L271.04 50.26 L271.52 50.23 L272.00 50.20 L272.49 50.18 L273.00 50.16 L273.53 50.14 L274.06 50.13 L274.60 50.12 L275.13 50.13 L275.65 50.13 L276.16 50.15 L276.64 50.17 L277.10 50.20 L277.52 50.25 L277.90 50.30 L278.24 50.36 L278.55 50.44 L278.83 50.52 L279.09 50.61 L279.32 50.72 L279.54 50.83 L279.74 50.94 L279.92 51.06 L280.10 51.19 L280.27 51.32 L280.43 51.46 L280.60 51.60 L280.77 51.74 L280.93 51.89 L281.09 52.04 L281.24 52.19 L281.38 52.35 L281.51 52.51 L281.63 52.69 L281.73 52.87 L281.80 53.06 L281.86 53.26 L281.89 53.47 L281.90 53.70 L281.88 53.95 L281.82 54.22 L281.75 54.51 L281.64 54.81 L281.52 55.12 L281.39 55.44 L281.24 55.76 L281.08 56.08 L280.91 56.38 L280.74 56.68 L280.57 56.95 L280.40 57.20 L280.24 57.42 L280.10 57.61 L279.97 57.79 L279.84 57.94 L279.71 58.09 L279.56 58.23 L279.38 58.38 L279.18 58.54 L278.94 58.71 L278.65 58.91 L278.30 59.14 L277.90 59.40 L277.43 59.70 L276.90 60.03 L276.31 60.38 L275.69 60.76 L275.02 61.15 L274.32 61.55 L273.60 61.96 L272.86 62.38 L272.11 62.79 L271.37 63.21 L270.63 63.61 L269.90 64.00 L269.17 64.38 L268.43 64.77 L267.67 65.15 L266.90 65.53 L266.13 65.92 L265.34 66.30 L264.56 66.68 L263.77 67.07 L262.99 67.45 L262.22 67.83 L261.45 68.22 L260.70 68.60 L259.95 68.99 L259.20 69.38 L258.45 69.78 L257.70 70.18 L256.95 70.58 L256.21 70.97 L255.48 71.37 L254.76 71.76 L254.04 72.13 L253.35 72.50 L252.66 72.86 L252.00 73.20 L251.35 73.53 L250.71 73.87 L250.08 74.20 L249.47 74.53 L248.86 74.84 L248.27 75.15 L247.69 75.44 L247.12 75.72 L246.57 75.97 L246.03 76.21 L245.51 76.42 L245.00 76.60 L244.51 76.75 L244.05 76.88 L243.61 76.98 L243.19 77.07 L242.77 77.13 L242.38 77.17 L241.98 77.21 L241.59 77.22 L241.20 77.23 L240.81 77.22 L240.41 77.21 L240.00 77.20 L239.58 77.17 L239.16 77.11 L238.73 77.04 L238.30 76.95 L237.87 76.85 L237.44 76.74 L237.01 76.63 L236.59 76.52 L236.18 76.42 L235.78 76.33 L235.38 76.25 L235.00 76.20 L234.62 76.19 L234.23 76.22 L233.84 76.28 L233.44 76.36 L233.06 76.45 L232.69 76.53 L232.33 76.60 L232.00 76.63 L231.70 76.62 L231.42 76.55 L231.19 76.42 L231.00 76.20 L230.85 75.88 L230.72 75.45 L230.62 74.93 L230.56 74.34 L230.51 73.72 L230.50 73.07 L230.51 72.42 L230.56 71.79 L230.62 71.20 L230.72 70.68 L230.85 70.23Z" fill="#464646"/>
<path d="M271.83 56.96 L271.92 57.20 L271.94 57.47 L271.90 57.77 L271.79 58.10 L271.62 58.46 L271.39 58.85 L271.09 59.26 L270.74 59.70 L270.32 60.16 L269.85 60.64 L269.33 61.13 L268.75 61.65 L268.12 62.17 L267.45 62.71 L266.72 63.26 L265.96 63.81 L265.16 64.37 L264.32 64.93 L263.46 65.49 L262.56 66.05 L261.64 66.60 L260.70 67.15 L259.75 67.68 L258.78 68.21 L257.81 68.71 L256.83 69.21 L255.86 69.68 L254.88 70.13 L253.92 70.56 L252.97 70.97 L252.04 71.35 L251.13 71.70 L250.24 72.02 L249.39 72.31 L248.56 72.57 L247.77 72.80 L247.02 72.99 L246.32 73.15 L245.66 73.27 L245.05 73.36 L244.49 73.41 L243.98 73.42 L243.53 73.40 L243.13 73.34 L242.80 73.24 L242.53 73.11 L242.31 72.94 L242.17 72.74 L242.08 72.50 L242.06 72.23 L242.10 71.93 L242.21 71.60 L242.38 71.24 L242.61 70.85 L242.91 70.44 L243.26 70.00 L243.68 69.54 L244.15 69.06 L244.67 68.57 L245.25 68.05 L245.88 67.53 L246.55 66.99 L247.28 66.44 L248.04 65.89 L248.84 65.33 L249.68 64.77 L250.54 64.21 L251.44 63.65 L252.36 63.10 L253.30 62.55 L254.25 62.02 L255.22 61.49 L256.19 60.99 L257.17 60.49 L258.14 60.02 L259.12 59.57 L260.08 59.14 L261.03 58.73 L261.96 58.35 L262.87 58.00 L263.76 57.68 L264.61 57.39 L265.44 57.13 L266.23 56.90 L266.98 56.71 L267.68 56.55 L268.34 56.43 L268.95 56.34 L269.51 56.29 L270.02 56.28 L270.47 56.30 L270.87 56.36 L271.20 56.46 L271.47 56.59 L271.69 56.76Z" fill="#030303"/>
</g>
<g clip-path="url(#cpc)" stroke="none">
<path d="M59.00 222.80 L59.18 221.88 L59.38 221.22 L59.60 220.77 L59.85 220.49 L60.13 220.34 L60.44 220.28 L60.78 220.26 L61.15 220.24 L61.55 220.19 L62.00 220.06 L62.48 219.81 L63.00 219.40 L63.57 218.85 L64.21 218.24 L64.89 217.57 L65.62 216.84 L66.38 216.09 L67.17 215.30 L67.98 214.50 L68.79 213.69 L69.61 212.88 L70.42 212.09 L71.22 211.33 L72.00 210.60 L72.76 209.89 L73.53 209.18 L74.30 208.48 L75.08 207.77 L75.85 207.07 L76.63 206.38 L77.41 205.69 L78.19 205.01 L78.97 204.34 L79.75 203.68 L80.52 203.04 L81.30 202.40 L82.08 201.77 L82.88 201.14 L83.68 200.50 L84.49 199.88 L85.30 199.26 L86.10 198.66 L86.90 198.07 L87.68 197.50 L88.44 196.96 L89.19 196.44 L89.91 195.95 L90.60 195.50 L91.26 195.08 L91.89 194.69 L92.49 194.33 L93.07 193.99 L93.64 193.67 L94.19 193.38 L94.74 193.11 L95.28 192.86 L95.82 192.62 L96.37 192.40 L96.93 192.19 L97.50 192.00 L98.07 191.83 L98.62 191.68 L99.16 191.56 L99.70 191.45 L100.23 191.37 L100.78 191.29 L101.33 191.23 L101.90 191.18 L102.50 191.14 L103.13 191.09 L103.79 191.05 L104.50 191.00 L105.25 190.95 L106.05 190.92 L106.89 190.89 L107.76 190.87 L108.65 190.85 L109.56 190.84 L110.48 190.83 L111.41 190.82 L112.33 190.82 L113.24 190.81 L114.13 190.81 L115.00 190.80 L115.87 190.79 L116.77 190.77 L117.69 190.76 L118.61 190.74 L119.53 190.73 L120.44 190.71 L121.32 190.70 L122.17 190.70 L122.97 190.71 L123.72 190.73 L124.40 190.76 L125.00 190.80 L125.52 190.85 L125.97 190.89 L126.36 190.93 L126.69 190.97 L126.97 191.02 L127.22 191.09 L127.44 191.17 L127.65 191.27 L127.85 191.40 L128.05 191.57 L128.26 191.76 L128.50 192.00 L128.75 192.26 L129.00 192.52 L129.25 192.80 L129.50 193.09 L129.74 193.41 L129.97 193.76 L130.19 194.16 L130.39 194.60 L130.57 195.10 L130.74 195.66 L130.88 196.29 L131.00 197.00 L131.09 197.80 L131.16 198.71 L131.20 199.70 L131.22 200.76 L131.23 201.87 L131.22 203.03 L131.20 204.21 L131.17 205.41 L131.13 206.60 L131.09 207.77 L131.04 208.91 L131.00 210.00 L130.96 211.09 L130.91 212.23 L130.85 213.41 L130.79 214.59 L130.71 215.78 L130.64 216.94 L130.55 218.06 L130.46 219.13 L130.36 220.12 L130.25 221.03 L130.13 221.83 L130.00 222.50 L129.88 223.02 L129.77 223.39 L129.67 223.64 L129.56 223.79 L129.45 223.87 L129.32 223.90 L129.17 223.91 L128.99 223.92 L128.77 223.96 L128.50 224.05 L128.18 224.22 L127.80 224.50 L127.34 224.87 L126.81 225.30 L126.21 225.78 L125.57 226.30 L124.88 226.85 L124.17 227.41 L123.44 227.99 L122.71 228.56 L121.99 229.11 L121.29 229.65 L120.62 230.15 L120.00 230.60 L119.42 231.02 L118.87 231.41 L118.34 231.77 L117.83 232.13 L117.33 232.46 L116.83 232.79 L116.32 233.12 L115.80 233.44 L115.27 233.77 L114.71 234.10 L114.13 234.44 L113.50 234.80 L112.83 235.18 L112.11 235.57 L111.36 235.97 L110.57 236.38 L109.78 236.79 L108.97 237.20 L108.16 237.60 L107.37 238.00 L106.60 238.38 L105.86 238.74 L105.15 239.09 L104.50 239.40 L103.90 239.69 L103.33 239.95 L102.80 240.20 L102.30 240.43 L101.81 240.65 L101.34 240.85 L100.88 241.05 L100.43 241.24 L99.96 241.43 L99.49 241.61 L99.01 241.80 L98.50 242.00 L97.97 242.20 L97.44 242.41 L96.90 242.61 L96.35 242.81 L95.80 243.02 L95.25 243.21 L94.70 243.40 L94.15 243.59 L93.60 243.76 L93.06 243.92 L92.53 244.07 L92.00 244.20 L91.48 244.32 L90.96 244.41 L90.43 244.49 L89.91 244.56 L89.40 244.62 L88.89 244.67 L88.38 244.72 L87.89 244.77 L87.40 244.82 L86.92 244.87 L86.45 244.93 L86.00 245.00 L85.57 245.08 L85.16 245.16 L84.77 245.25 L84.40 245.35 L84.03 245.44 L83.67 245.54 L83.31 245.63 L82.94 245.72 L82.56 245.80 L82.16 245.88 L81.74 245.94 L81.30 246.00 L80.83 246.05 L80.33 246.09 L79.82 246.12 L79.29 246.15 L78.74 246.17 L78.19 246.19 L77.64 246.20 L77.09 246.21 L76.55 246.21 L76.02 246.21 L75.50 246.21 L75.00 246.20 L74.52 246.19 L74.06 246.17 L73.61 246.15 L73.17 246.13 L72.74 246.10 L72.31 246.06 L71.88 246.03 L71.45 245.99 L71.01 245.94 L70.55 245.90 L70.09 245.85 L69.60 245.80 L69.09 245.75 L68.55 245.68 L68.00 245.61 L67.43 245.54 L66.85 245.46 L66.27 245.39 L65.69 245.31 L65.13 245.24 L64.58 245.17 L64.06 245.10 L63.56 245.05 L63.10 245.00 L62.66 245.03 L62.23 245.18 L61.81 245.42 L61.40 245.70 L61.01 245.98 L60.64 246.22 L60.30 246.40 L59.97 246.46 L59.68 246.37 L59.42 246.09 L59.19 245.58 L59.00 244.80 L58.84 243.67 L58.72 242.18 L58.62 240.40 L58.55 238.39 L58.51 236.24 L58.49 234.00 L58.51 231.75 L58.55 229.56 L58.62 227.50 L58.72 225.64 L58.85 224.05Z" fill="#dedede"/>
<path d="M59.00 225.50 L59.18 224.76 L59.38 224.22 L59.60 223.83 L59.85 223.57 L60.13 223.41 L60.44 223.31 L60.78 223.23 L61.15 223.16 L61.55 223.05 L62.00 222.88 L62.48 222.60 L63.00 222.20 L63.57 221.69 L64.21 221.12 L64.89 220.49 L65.62 219.83 L66.38 219.13 L67.17 218.40 L67.98 217.66 L68.79 216.91 L69.61 216.16 L70.42 215.42 L71.22 214.70 L72.00 214.00 L72.76 213.32 L73.51 212.64 L74.25 211.96 L74.99 211.29 L75.74 210.61 L76.49 209.93 L77.25 209.26 L78.02 208.58 L78.81 207.91 L79.61 207.24 L80.44 206.57 L81.30 205.90 L82.20 205.22 L83.16 204.51 L84.17 203.79 L85.20 203.06 L86.25 202.34 L87.30 201.62 L88.34 200.92 L89.36 200.25 L90.33 199.61 L91.26 199.02 L92.12 198.48 L92.90 198.00 L93.60 197.58 L94.24 197.22 L94.83 196.90 L95.36 196.62 L95.86 196.38 L96.33 196.17 L96.78 195.98 L97.21 195.81 L97.65 195.65 L98.08 195.50 L98.53 195.35 L99.00 195.20 L99.47 195.05 L99.91 194.92 L100.32 194.81 L100.73 194.72 L101.13 194.64 L101.54 194.56 L101.96 194.50 L102.39 194.44 L102.86 194.38 L103.36 194.32 L103.90 194.26 L104.50 194.20 L105.15 194.13 L105.85 194.07 L106.59 194.01 L107.37 193.96 L108.17 193.90 L109.00 193.85 L109.84 193.80 L110.69 193.76 L111.53 193.71 L112.37 193.67 L113.20 193.63 L114.00 193.60 L114.81 193.56 L115.66 193.53 L116.53 193.49 L117.42 193.45 L118.30 193.42 L119.17 193.39 L120.02 193.36 L120.84 193.35 L121.60 193.34 L122.31 193.35 L122.95 193.37 L123.50 193.40 L123.97 193.44 L124.36 193.49 L124.69 193.55 L124.97 193.61 L125.19 193.69 L125.38 193.78 L125.54 193.87 L125.68 193.99 L125.80 194.11 L125.93 194.26 L126.06 194.42 L126.20 194.60 L126.35 194.77 L126.48 194.92 L126.59 195.05 L126.70 195.18 L126.79 195.32 L126.87 195.50 L126.94 195.72 L127.00 196.00 L127.06 196.35 L127.11 196.79 L127.16 197.34 L127.20 198.00 L127.24 198.82 L127.27 199.80 L127.29 200.92 L127.30 202.14 L127.31 203.44 L127.31 204.78 L127.30 206.13 L127.29 207.46 L127.27 208.74 L127.25 209.95 L127.23 211.04 L127.20 212.00 L127.17 212.84 L127.14 213.60 L127.10 214.31 L127.07 214.96 L127.02 215.55 L126.98 216.11 L126.92 216.64 L126.86 217.13 L126.78 217.61 L126.70 218.08 L126.61 218.54 L126.50 219.00 L126.41 219.44 L126.34 219.82 L126.30 220.16 L126.25 220.47 L126.20 220.76 L126.12 221.04 L126.02 221.32 L125.86 221.62 L125.64 221.95 L125.35 222.31 L124.98 222.73 L124.50 223.20 L123.91 223.74 L123.20 224.34 L122.40 224.99 L121.53 225.68 L120.59 226.40 L119.61 227.12 L118.60 227.86 L117.59 228.59 L116.58 229.29 L115.60 229.97 L114.67 230.61 L113.80 231.20 L112.98 231.74 L112.20 232.26 L111.43 232.74 L110.68 233.21 L109.94 233.65 L109.21 234.09 L108.47 234.51 L107.72 234.93 L106.95 235.34 L106.17 235.75 L105.35 236.17 L104.50 236.60 L103.61 237.04 L102.70 237.49 L101.76 237.95 L100.80 238.41 L99.83 238.87 L98.84 239.32 L97.85 239.76 L96.85 240.19 L95.85 240.58 L94.86 240.96 L93.87 241.30 L92.90 241.60 L91.93 241.87 L90.94 242.10 L89.95 242.31 L88.95 242.50 L87.95 242.66 L86.96 242.80 L85.97 242.93 L85.00 243.04 L84.04 243.14 L83.10 243.23 L82.19 243.32 L81.30 243.40 L80.44 243.48 L79.61 243.54 L78.81 243.59 L78.02 243.63 L77.25 243.66 L76.49 243.68 L75.74 243.68 L74.99 243.68 L74.25 243.67 L73.51 243.65 L72.76 243.63 L72.00 243.60 L71.22 243.56 L70.42 243.49 L69.61 243.42 L68.79 243.33 L67.98 243.23 L67.17 243.12 L66.38 243.02 L65.62 242.92 L64.89 242.82 L64.21 242.73 L63.57 242.66 L63.00 242.60 L62.48 242.61 L62.00 242.71 L61.55 242.89 L61.15 243.09 L60.78 243.31 L60.44 243.49 L60.13 243.63 L59.85 243.67 L59.60 243.61 L59.38 243.39 L59.18 243.00 L59.00 242.40 L58.85 241.53 L58.72 240.39 L58.62 239.03 L58.56 237.50 L58.51 235.85 L58.50 234.14 L58.51 232.42 L58.56 230.74 L58.62 229.16 L58.72 227.72 L58.85 226.49Z" fill="#c4c4c4"/>
<path d="M59.00 228.20 L59.18 227.65 L59.38 227.22 L59.60 226.90 L59.85 226.66 L60.13 226.48 L60.44 226.34 L60.78 226.21 L61.15 226.07 L61.55 225.91 L62.00 225.69 L62.48 225.39 L63.00 225.00 L63.57 224.52 L64.21 223.99 L64.89 223.42 L65.62 222.81 L66.38 222.17 L67.17 221.50 L67.98 220.82 L68.79 220.13 L69.61 219.43 L70.42 218.74 L71.22 218.06 L72.00 217.40 L72.76 216.75 L73.51 216.09 L74.25 215.43 L74.99 214.76 L75.74 214.10 L76.49 213.43 L77.25 212.75 L78.02 212.08 L78.81 211.41 L79.61 210.74 L80.44 210.07 L81.30 209.40 L82.20 208.72 L83.16 208.01 L84.17 207.28 L85.20 206.54 L86.25 205.80 L87.30 205.07 L88.34 204.36 L89.36 203.68 L90.33 203.03 L91.26 202.43 L92.12 201.88 L92.90 201.40 L93.60 200.98 L94.24 200.61 L94.83 200.28 L95.36 200.00 L95.86 199.75 L96.33 199.54 L96.78 199.35 L97.21 199.18 L97.65 199.02 L98.08 198.88 L98.53 198.74 L99.00 198.60 L99.47 198.47 L99.93 198.37 L100.37 198.30 L100.80 198.24 L101.23 198.19 L101.66 198.16 L102.10 198.14 L102.54 198.12 L103.00 198.10 L103.47 198.07 L103.97 198.04 L104.50 198.00 L105.05 197.95 L105.63 197.89 L106.23 197.83 L106.85 197.77 L107.48 197.71 L108.12 197.65 L108.77 197.59 L109.43 197.54 L110.08 197.49 L110.73 197.45 L111.37 197.42 L112.00 197.40 L112.64 197.38 L113.31 197.36 L114.00 197.35 L114.69 197.33 L115.39 197.33 L116.08 197.33 L116.74 197.33 L117.39 197.36 L117.99 197.39 L118.55 197.44 L119.06 197.51 L119.50 197.60 L119.88 197.70 L120.21 197.82 L120.49 197.94 L120.72 198.07 L120.92 198.22 L121.09 198.39 L121.24 198.57 L121.37 198.77 L121.48 198.99 L121.59 199.24 L121.69 199.51 L121.80 199.80 L121.90 200.12 L121.99 200.46 L122.06 200.82 L122.11 201.21 L122.15 201.61 L122.18 202.04 L122.20 202.48 L122.21 202.95 L122.21 203.43 L122.21 203.94 L122.21 204.46 L122.20 205.00 L122.19 205.58 L122.17 206.19 L122.14 206.85 L122.11 207.53 L122.07 208.24 L122.03 208.95 L121.97 209.67 L121.91 210.38 L121.84 211.08 L121.77 211.75 L121.69 212.39 L121.60 213.00 L121.51 213.57 L121.41 214.12 L121.30 214.65 L121.19 215.17 L121.08 215.67 L120.95 216.16 L120.82 216.64 L120.67 217.12 L120.52 217.59 L120.36 218.06 L120.19 218.53 L120.00 219.00 L119.80 219.48 L119.58 219.95 L119.35 220.43 L119.11 220.90 L118.86 221.36 L118.60 221.82 L118.34 222.28 L118.07 222.73 L117.80 223.16 L117.53 223.59 L117.26 224.00 L117.00 224.40 L116.76 224.78 L116.55 225.14 L116.36 225.48 L116.17 225.80 L115.99 226.12 L115.79 226.43 L115.58 226.73 L115.33 227.04 L115.03 227.36 L114.69 227.69 L114.28 228.04 L113.80 228.40 L113.25 228.78 L112.63 229.17 L111.96 229.58 L111.24 229.99 L110.47 230.40 L109.67 230.82 L108.85 231.25 L108.00 231.68 L107.13 232.11 L106.25 232.54 L105.37 232.97 L104.50 233.40 L103.61 233.84 L102.70 234.29 L101.76 234.76 L100.80 235.23 L99.83 235.70 L98.84 236.17 L97.85 236.64 L96.85 237.08 L95.85 237.51 L94.86 237.90 L93.87 238.27 L92.90 238.60 L91.93 238.89 L90.94 239.16 L89.95 239.41 L88.95 239.63 L87.95 239.83 L86.96 240.01 L85.97 240.18 L85.00 240.33 L84.04 240.46 L83.10 240.58 L82.19 240.70 L81.30 240.80 L80.44 240.89 L79.61 240.96 L78.81 241.01 L78.02 241.05 L77.25 241.08 L76.49 241.09 L75.74 241.09 L74.99 241.08 L74.25 241.07 L73.51 241.05 L72.76 241.02 L72.00 241.00 L71.22 240.97 L70.42 240.92 L69.61 240.86 L68.79 240.79 L67.98 240.71 L67.17 240.62 L66.38 240.54 L65.62 240.46 L64.89 240.38 L64.21 240.31 L63.57 240.25 L63.00 240.20 L62.48 240.20 L62.00 240.27 L61.55 240.38 L61.15 240.52 L60.78 240.66 L60.44 240.79 L60.13 240.88 L59.85 240.90 L59.60 240.85 L59.38 240.70 L59.18 240.42 L59.00 240.00 L58.85 239.40 L58.72 238.61 L58.62 237.66 L58.56 236.61 L58.51 235.47 L58.50 234.29 L58.51 233.09 L58.56 231.93 L58.62 230.82 L58.72 229.80 L58.85 228.92Z" fill="#a2a2a2"/>
<path d="M59.00 231.00 L59.18 230.63 L59.38 230.33 L59.60 230.08 L59.85 229.87 L60.13 229.69 L60.44 229.53 L60.78 229.36 L61.15 229.17 L61.55 228.96 L62.00 228.70 L62.48 228.38 L63.00 228.00 L63.57 227.55 L64.21 227.05 L64.89 226.51 L65.62 225.94 L66.38 225.33 L67.17 224.71 L67.98 224.06 L68.79 223.41 L69.61 222.75 L70.42 222.09 L71.22 221.44 L72.00 220.80 L72.76 220.17 L73.51 219.53 L74.25 218.88 L74.99 218.23 L75.74 217.57 L76.49 216.91 L77.25 216.24 L78.02 215.57 L78.81 214.91 L79.61 214.24 L80.44 213.57 L81.30 212.90 L82.20 212.22 L83.16 211.50 L84.17 210.76 L85.20 210.02 L86.25 209.27 L87.30 208.53 L88.34 207.81 L89.36 207.11 L90.33 206.46 L91.26 205.85 L92.12 205.29 L92.90 204.80 L93.60 204.37 L94.24 204.00 L94.83 203.68 L95.36 203.40 L95.86 203.16 L96.33 202.94 L96.78 202.76 L97.21 202.59 L97.65 202.44 L98.08 202.29 L98.53 202.15 L99.00 202.00 L99.48 201.86 L99.95 201.75 L100.42 201.65 L100.88 201.58 L101.33 201.51 L101.79 201.46 L102.24 201.42 L102.69 201.38 L103.14 201.34 L103.59 201.30 L104.04 201.25 L104.50 201.20 L104.96 201.14 L105.41 201.08 L105.86 201.02 L106.31 200.96 L106.77 200.90 L107.22 200.84 L107.67 200.78 L108.13 200.73 L108.59 200.69 L109.05 200.65 L109.52 200.62 L110.00 200.60 L110.49 200.58 L111.01 200.56 L111.54 200.55 L112.09 200.53 L112.64 200.53 L113.18 200.52 L113.72 200.53 L114.23 200.56 L114.73 200.59 L115.19 200.64 L115.62 200.71 L116.00 200.80 L116.34 200.90 L116.66 201.02 L116.94 201.14 L117.20 201.28 L117.44 201.43 L117.65 201.60 L117.84 201.78 L118.02 201.99 L118.18 202.21 L118.33 202.45 L118.47 202.71 L118.60 203.00 L118.71 203.31 L118.81 203.65 L118.88 204.01 L118.94 204.39 L118.98 204.78 L119.01 205.20 L119.03 205.63 L119.04 206.08 L119.04 206.54 L119.03 207.02 L119.02 207.50 L119.00 208.00 L118.98 208.52 L118.95 209.07 L118.92 209.66 L118.87 210.26 L118.82 210.88 L118.76 211.50 L118.69 212.12 L118.61 212.74 L118.53 213.34 L118.43 213.93 L118.32 214.48 L118.20 215.00 L118.07 215.49 L117.93 215.96 L117.78 216.41 L117.62 216.85 L117.45 217.28 L117.27 217.69 L117.08 218.09 L116.88 218.48 L116.67 218.87 L116.46 219.25 L116.23 219.62 L116.00 220.00 L115.77 220.36 L115.54 220.70 L115.32 221.03 L115.10 221.34 L114.86 221.65 L114.61 221.95 L114.34 222.26 L114.05 222.57 L113.72 222.90 L113.36 223.24 L112.95 223.61 L112.50 224.00 L112.00 224.42 L111.47 224.86 L110.90 225.32 L110.30 225.80 L109.67 226.29 L109.01 226.79 L108.32 227.29 L107.60 227.80 L106.86 228.31 L106.09 228.81 L105.31 229.31 L104.50 229.80 L103.66 230.29 L102.78 230.80 L101.85 231.32 L100.90 231.84 L99.92 232.36 L98.92 232.88 L97.92 233.38 L96.90 233.87 L95.88 234.35 L94.88 234.80 L93.88 235.21 L92.90 235.60 L91.93 235.96 L90.94 236.29 L89.95 236.61 L88.95 236.91 L87.95 237.19 L86.96 237.45 L85.97 237.69 L85.00 237.91 L84.04 238.11 L83.10 238.29 L82.19 238.46 L81.30 238.60 L80.44 238.72 L79.61 238.81 L78.81 238.87 L78.02 238.91 L77.25 238.93 L76.49 238.94 L75.74 238.93 L74.99 238.91 L74.25 238.89 L73.51 238.86 L72.76 238.83 L72.00 238.80 L71.22 238.77 L70.42 238.72 L69.61 238.66 L68.79 238.59 L67.98 238.51 L67.17 238.43 L66.38 238.34 L65.62 238.26 L64.89 238.18 L64.21 238.11 L63.57 238.05 L63.00 238.00 L62.48 237.98 L62.00 238.01 L61.55 238.06 L61.15 238.13 L60.78 238.21 L60.44 238.28 L60.13 238.32 L59.85 238.33 L59.60 238.30 L59.38 238.21 L59.18 238.05 L59.00 237.80 L58.85 237.45 L58.72 237.00 L58.62 236.48 L58.56 235.88 L58.51 235.24 L58.50 234.58 L58.51 233.90 L58.56 233.23 L58.62 232.59 L58.72 231.99 L58.85 231.45Z" fill="#767676"/>
<path d="M62.00 231.50 L62.19 231.27 L62.41 231.08 L62.67 230.93 L62.96 230.79 L63.28 230.67 L63.62 230.56 L63.99 230.45 L64.37 230.32 L64.77 230.17 L65.17 229.99 L65.58 229.77 L66.00 229.50 L66.42 229.19 L66.85 228.86 L67.28 228.51 L67.73 228.14 L68.19 227.74 L68.67 227.32 L69.16 226.89 L69.68 226.43 L70.22 225.95 L70.79 225.45 L71.38 224.94 L72.00 224.40 L72.65 223.83 L73.33 223.23 L74.04 222.60 L74.77 221.95 L75.52 221.27 L76.30 220.58 L77.09 219.88 L77.91 219.17 L78.74 218.47 L79.58 217.77 L80.43 217.08 L81.30 216.40 L82.20 215.72 L83.16 215.00 L84.17 214.27 L85.20 213.53 L86.25 212.79 L87.30 212.06 L88.34 211.35 L89.36 210.67 L90.33 210.02 L91.26 209.42 L92.12 208.88 L92.90 208.40 L93.60 207.99 L94.24 207.63 L94.83 207.33 L95.36 207.07 L95.86 206.84 L96.33 206.65 L96.78 206.48 L97.21 206.33 L97.65 206.20 L98.08 206.07 L98.53 205.94 L99.00 205.80 L99.48 205.67 L99.95 205.56 L100.42 205.46 L100.88 205.39 L101.33 205.32 L101.79 205.26 L102.24 205.21 L102.69 205.17 L103.14 205.13 L103.59 205.09 L104.04 205.05 L104.50 205.00 L104.96 204.95 L105.44 204.89 L105.92 204.84 L106.41 204.79 L106.89 204.73 L107.38 204.69 L107.85 204.65 L108.31 204.61 L108.77 204.59 L109.20 204.58 L109.61 204.58 L110.00 204.60 L110.37 204.63 L110.72 204.66 L111.06 204.71 L111.39 204.76 L111.70 204.82 L112.00 204.89 L112.28 204.98 L112.56 205.07 L112.81 205.18 L113.06 205.31 L113.28 205.45 L113.50 205.60 L113.70 205.77 L113.88 205.95 L114.05 206.15 L114.20 206.37 L114.34 206.59 L114.47 206.83 L114.58 207.08 L114.69 207.34 L114.78 207.62 L114.86 207.90 L114.93 208.20 L115.00 208.50 L115.06 208.82 L115.10 209.16 L115.14 209.51 L115.16 209.88 L115.18 210.26 L115.18 210.65 L115.18 211.04 L115.16 211.44 L115.13 211.84 L115.10 212.23 L115.05 212.62 L115.00 213.00 L114.94 213.38 L114.87 213.76 L114.79 214.15 L114.70 214.54 L114.60 214.94 L114.49 215.33 L114.37 215.71 L114.24 216.09 L114.10 216.46 L113.95 216.82 L113.78 217.17 L113.60 217.50 L113.41 217.81 L113.22 218.10 L113.01 218.37 L112.80 218.63 L112.58 218.88 L112.34 219.13 L112.08 219.38 L111.81 219.63 L111.52 219.90 L111.20 220.18 L110.87 220.48 L110.50 220.80 L110.11 221.15 L109.70 221.51 L109.26 221.89 L108.81 222.27 L108.33 222.67 L107.84 223.08 L107.32 223.50 L106.79 223.91 L106.24 224.34 L105.68 224.76 L105.10 225.18 L104.50 225.60 L103.86 226.03 L103.17 226.48 L102.42 226.95 L101.65 227.43 L100.86 227.92 L100.07 228.39 L99.29 228.86 L98.53 229.31 L97.80 229.74 L97.13 230.13 L96.53 230.49 L96.00 230.80 L95.58 231.06 L95.27 231.26 L95.04 231.42 L94.88 231.54 L94.76 231.65 L94.64 231.73 L94.52 231.81 L94.36 231.90 L94.15 232.00 L93.85 232.13 L93.44 232.29 L92.90 232.50 L92.22 232.76 L91.43 233.07 L90.54 233.41 L89.58 233.77 L88.55 234.16 L87.49 234.54 L86.40 234.93 L85.31 235.29 L84.24 235.63 L83.20 235.94 L82.21 236.20 L81.30 236.40 L80.43 236.55 L79.58 236.66 L78.74 236.73 L77.91 236.77 L77.09 236.79 L76.30 236.78 L75.52 236.76 L74.77 236.73 L74.04 236.69 L73.33 236.66 L72.65 236.62 L72.00 236.60 L71.38 236.58 L70.79 236.54 L70.22 236.50 L69.68 236.45 L69.16 236.40 L68.67 236.34 L68.19 236.28 L67.73 236.21 L67.28 236.15 L66.85 236.10 L66.42 236.05 L66.00 236.00 L65.58 235.97 L65.17 235.96 L64.77 235.97 L64.37 235.99 L63.99 236.01 L63.62 236.02 L63.28 236.02 L62.96 236.00 L62.67 235.96 L62.41 235.88 L62.19 235.76 L62.00 235.60 L61.85 235.38 L61.72 235.11 L61.62 234.79 L61.56 234.43 L61.51 234.05 L61.50 233.65 L61.51 233.25 L61.56 232.85 L61.62 232.46 L61.72 232.10 L61.85 231.78Z" fill="#444444"/>
<path d="M73.40 232.40 L73.46 232.07 L73.59 231.69 L73.77 231.27 L74.01 230.81 L74.29 230.33 L74.60 229.83 L74.94 229.31 L75.30 228.79 L75.68 228.27 L76.06 227.76 L76.43 227.27 L76.80 226.80 L77.17 226.35 L77.56 225.89 L77.98 225.43 L78.41 224.96 L78.85 224.50 L79.30 224.05 L79.76 223.60 L80.21 223.17 L80.67 222.75 L81.12 222.35 L81.57 221.96 L82.00 221.60 L82.42 221.26 L82.84 220.94 L83.25 220.65 L83.67 220.36 L84.08 220.09 L84.49 219.84 L84.90 219.59 L85.31 219.35 L85.73 219.11 L86.15 218.88 L86.57 218.64 L87.00 218.40 L87.43 218.16 L87.87 217.93 L88.31 217.71 L88.74 217.49 L89.19 217.27 L89.63 217.06 L90.08 216.85 L90.53 216.64 L90.99 216.44 L91.45 216.23 L91.92 216.01 L92.40 215.80 L92.88 215.58 L93.38 215.35 L93.88 215.11 L94.39 214.87 L94.90 214.64 L95.41 214.40 L95.93 214.17 L96.45 213.95 L96.97 213.74 L97.48 213.54 L97.99 213.36 L98.50 213.20 L99.01 213.05 L99.54 212.92 L100.08 212.79 L100.63 212.67 L101.17 212.56 L101.71 212.46 L102.24 212.38 L102.75 212.31 L103.23 212.26 L103.69 212.22 L104.12 212.20 L104.50 212.20 L104.85 212.22 L105.16 212.26 L105.45 212.31 L105.71 212.39 L105.96 212.47 L106.18 212.57 L106.38 212.69 L106.56 212.81 L106.74 212.95 L106.90 213.09 L107.05 213.24 L107.20 213.40 L107.34 213.57 L107.47 213.74 L107.58 213.93 L107.68 214.13 L107.77 214.34 L107.84 214.56 L107.90 214.79 L107.95 215.02 L107.99 215.26 L108.00 215.50 L108.01 215.75 L108.00 216.00 L107.98 216.26 L107.93 216.53 L107.88 216.82 L107.81 217.12 L107.72 217.42 L107.62 217.72 L107.51 218.03 L107.39 218.33 L107.26 218.62 L107.12 218.89 L106.96 219.16 L106.80 219.40 L106.63 219.62 L106.46 219.82 L106.28 220.01 L106.09 220.18 L105.88 220.34 L105.67 220.50 L105.44 220.66 L105.19 220.82 L104.93 220.99 L104.64 221.18 L104.33 221.38 L104.00 221.60 L103.64 221.84 L103.25 222.10 L102.83 222.37 L102.39 222.64 L101.93 222.93 L101.46 223.22 L100.97 223.52 L100.48 223.82 L99.98 224.12 L99.48 224.42 L98.99 224.71 L98.50 225.00 L98.01 225.28 L97.52 225.57 L97.02 225.85 L96.52 226.14 L96.02 226.43 L95.51 226.71 L94.99 227.00 L94.48 227.28 L93.96 227.56 L93.44 227.84 L92.92 228.12 L92.40 228.40 L91.87 228.68 L91.33 228.96 L90.78 229.25 L90.23 229.54 L89.67 229.83 L89.11 230.11 L88.56 230.39 L88.02 230.66 L87.49 230.92 L86.97 231.16 L86.47 231.39 L86.00 231.60 L85.55 231.79 L85.12 231.97 L84.71 232.13 L84.32 232.28 L83.94 232.42 L83.57 232.55 L83.20 232.67 L82.83 232.79 L82.46 232.89 L82.09 233.00 L81.70 233.10 L81.30 233.20 L80.88 233.30 L80.45 233.41 L80.00 233.51 L79.54 233.61 L79.09 233.71 L78.63 233.80 L78.18 233.88 L77.74 233.94 L77.32 233.99 L76.92 234.01 L76.55 234.02 L76.20 234.00 L75.87 233.96 L75.53 233.92 L75.19 233.86 L74.87 233.79 L74.56 233.71 L74.27 233.60 L74.01 233.47 L73.79 233.32 L73.61 233.14 L73.48 232.93 L73.41 232.68Z" fill="#0a0a0a"/>
</g>
<g clip-path="url(#cpd)" stroke="none">
<path d="M231.00 217.50 L231.22 216.40 L231.49 215.57 L231.81 214.98 L232.17 214.58 L232.56 214.34 L232.97 214.22 L233.40 214.18 L233.83 214.17 L234.27 214.17 L234.70 214.14 L235.11 214.03 L235.50 213.80 L235.87 213.51 L236.24 213.21 L236.61 212.92 L236.98 212.64 L237.35 212.35 L237.72 212.07 L238.09 211.79 L238.46 211.51 L238.84 211.23 L239.22 210.95 L239.61 210.68 L240.00 210.40 L240.39 210.13 L240.78 209.88 L241.16 209.63 L241.54 209.39 L241.93 209.14 L242.33 208.90 L242.73 208.65 L243.14 208.39 L243.58 208.12 L244.03 207.84 L244.50 207.53 L245.00 207.20 L245.52 206.85 L246.06 206.48 L246.61 206.09 L247.17 205.68 L247.76 205.26 L248.36 204.84 L248.97 204.40 L249.60 203.96 L250.25 203.52 L250.92 203.08 L251.60 202.64 L252.30 202.20 L253.02 201.76 L253.78 201.30 L254.56 200.83 L255.36 200.35 L256.18 199.87 L257.01 199.39 L257.84 198.91 L258.69 198.45 L259.53 198.00 L260.36 197.58 L261.19 197.17 L262.00 196.80 L262.81 196.45 L263.62 196.12 L264.44 195.81 L265.25 195.51 L266.07 195.23 L266.88 194.96 L267.69 194.71 L268.49 194.47 L269.29 194.24 L270.07 194.02 L270.84 193.80 L271.60 193.60 L272.34 193.41 L273.07 193.23 L273.79 193.06 L274.50 192.91 L275.20 192.77 L275.89 192.64 L276.57 192.51 L277.26 192.40 L277.94 192.29 L278.63 192.19 L279.31 192.09 L280.00 192.00 L280.69 191.91 L281.38 191.84 L282.07 191.77 L282.76 191.70 L283.45 191.65 L284.14 191.60 L284.82 191.56 L285.50 191.52 L286.18 191.48 L286.86 191.45 L287.53 191.43 L288.20 191.40 L288.88 191.37 L289.57 191.35 L290.28 191.33 L290.99 191.30 L291.70 191.29 L292.40 191.28 L293.08 191.27 L293.74 191.27 L294.37 191.29 L294.96 191.31 L295.51 191.35 L296.00 191.40 L296.44 191.46 L296.83 191.53 L297.18 191.61 L297.49 191.70 L297.77 191.79 L298.03 191.90 L298.26 192.02 L298.49 192.15 L298.71 192.29 L298.93 192.45 L299.16 192.62 L299.40 192.80 L299.65 192.99 L299.90 193.16 L300.14 193.34 L300.39 193.52 L300.62 193.71 L300.85 193.93 L301.07 194.16 L301.28 194.44 L301.48 194.75 L301.67 195.11 L301.84 195.52 L302.00 196.00 L302.14 196.55 L302.28 197.16 L302.40 197.84 L302.51 198.57 L302.61 199.34 L302.69 200.14 L302.77 200.96 L302.84 201.79 L302.89 202.61 L302.94 203.43 L302.97 204.23 L303.00 205.00 L303.02 205.76 L303.02 206.54 L303.02 207.33 L303.00 208.13 L302.97 208.92 L302.94 209.71 L302.89 210.49 L302.83 211.25 L302.77 211.99 L302.69 212.70 L302.60 213.37 L302.50 214.00 L302.39 214.59 L302.28 215.15 L302.15 215.67 L302.02 216.17 L301.87 216.65 L301.72 217.11 L301.55 217.55 L301.37 217.97 L301.18 218.39 L300.97 218.79 L300.74 219.20 L300.50 219.60 L300.24 220.00 L299.94 220.39 L299.63 220.77 L299.30 221.13 L298.95 221.49 L298.59 221.84 L298.23 222.17 L297.87 222.50 L297.51 222.82 L297.16 223.12 L296.82 223.42 L296.50 223.70 L296.19 223.97 L295.90 224.21 L295.62 224.43 L295.34 224.64 L295.07 224.83 L294.80 225.03 L294.53 225.21 L294.24 225.41 L293.95 225.61 L293.65 225.82 L293.34 226.05 L293.00 226.30 L292.67 226.56 L292.36 226.83 L292.07 227.11 L291.78 227.39 L291.48 227.68 L291.16 227.97 L290.80 228.28 L290.41 228.60 L289.96 228.93 L289.45 229.27 L288.87 229.63 L288.20 230.00 L287.43 230.39 L286.55 230.82 L285.60 231.26 L284.57 231.73 L283.49 232.20 L282.37 232.68 L281.24 233.16 L280.10 233.64 L278.97 234.11 L277.86 234.56 L276.80 234.99 L275.80 235.40 L274.84 235.79 L273.90 236.16 L272.97 236.52 L272.05 236.87 L271.15 237.22 L270.25 237.55 L269.36 237.88 L268.48 238.19 L267.61 238.50 L266.74 238.81 L265.87 239.11 L265.00 239.40 L264.14 239.69 L263.29 239.98 L262.44 240.26 L261.61 240.54 L260.78 240.81 L259.95 241.07 L259.13 241.33 L258.30 241.57 L257.48 241.80 L256.66 242.02 L255.83 242.22 L255.00 242.40 L254.17 242.57 L253.33 242.72 L252.49 242.85 L251.65 242.97 L250.81 243.08 L249.97 243.17 L249.13 243.26 L248.30 243.34 L247.46 243.41 L246.64 243.48 L245.82 243.54 L245.00 243.60 L244.17 243.65 L243.33 243.69 L242.47 243.72 L241.61 243.75 L240.75 243.76 L239.91 243.77 L239.08 243.78 L238.28 243.79 L237.51 243.79 L236.79 243.79 L236.12 243.79 L235.50 243.80 L234.94 243.89 L234.41 244.12 L233.92 244.43 L233.46 244.79 L233.04 245.15 L232.66 245.46 L232.30 245.67 L231.98 245.76 L231.69 245.65 L231.43 245.32 L231.20 244.72 L231.00 243.80 L230.83 242.46 L230.69 240.68 L230.58 238.54 L230.50 236.14 L230.45 233.56 L230.44 230.88 L230.45 228.19 L230.50 225.57 L230.58 223.10 L230.69 220.88 L230.83 218.98Z" fill="#eeeeee"/>
<path d="M231.00 216.50 L231.22 215.54 L231.49 214.87 L231.81 214.45 L232.17 214.25 L232.56 214.21 L232.97 214.29 L233.40 214.46 L233.83 214.66 L234.27 214.86 L234.70 215.01 L235.11 215.07 L235.50 215.00 L235.87 214.84 L236.24 214.68 L236.61 214.50 L236.98 214.33 L237.35 214.14 L237.72 213.96 L238.09 213.77 L238.46 213.57 L238.84 213.38 L239.22 213.19 L239.61 212.99 L240.00 212.80 L240.39 212.61 L240.78 212.43 L241.16 212.26 L241.54 212.09 L241.93 211.92 L242.33 211.74 L242.73 211.55 L243.14 211.36 L243.58 211.15 L244.03 210.92 L244.50 210.67 L245.00 210.40 L245.52 210.11 L246.04 209.80 L246.58 209.47 L247.14 209.13 L247.71 208.77 L248.29 208.40 L248.90 208.02 L249.53 207.63 L250.18 207.23 L250.86 206.83 L251.57 206.42 L252.30 206.00 L253.08 205.57 L253.91 205.11 L254.79 204.63 L255.69 204.14 L256.62 203.64 L257.57 203.14 L258.52 202.64 L259.46 202.15 L260.39 201.67 L261.30 201.22 L262.17 200.79 L263.00 200.40 L263.79 200.03 L264.56 199.69 L265.30 199.35 L266.03 199.04 L266.74 198.74 L267.44 198.45 L268.14 198.18 L268.83 197.92 L269.51 197.67 L270.20 197.44 L270.90 197.21 L271.60 197.00 L272.31 196.80 L273.01 196.62 L273.72 196.45 L274.42 196.30 L275.12 196.16 L275.83 196.02 L276.52 195.90 L277.22 195.79 L277.92 195.69 L278.61 195.59 L279.31 195.49 L280.00 195.40 L280.70 195.31 L281.41 195.24 L282.12 195.17 L282.84 195.10 L283.55 195.05 L284.26 195.00 L284.96 194.96 L285.65 194.92 L286.32 194.88 L286.97 194.85 L287.60 194.83 L288.20 194.80 L288.78 194.77 L289.33 194.74 L289.88 194.72 L290.40 194.69 L290.91 194.67 L291.41 194.65 L291.88 194.64 L292.34 194.64 L292.78 194.66 L293.21 194.69 L293.61 194.74 L294.00 194.80 L294.37 194.88 L294.72 194.97 L295.05 195.06 L295.36 195.17 L295.66 195.29 L295.94 195.43 L296.20 195.57 L296.45 195.74 L296.68 195.93 L296.90 196.13 L297.11 196.35 L297.30 196.60 L297.48 196.85 L297.64 197.11 L297.78 197.36 L297.90 197.63 L298.01 197.91 L298.11 198.22 L298.19 198.57 L298.27 198.95 L298.33 199.38 L298.39 199.85 L298.45 200.39 L298.50 201.00 L298.55 201.70 L298.59 202.51 L298.63 203.40 L298.66 204.36 L298.69 205.37 L298.70 206.40 L298.70 207.44 L298.69 208.46 L298.67 209.45 L298.63 210.38 L298.57 211.24 L298.50 212.00 L298.41 212.68 L298.30 213.32 L298.17 213.92 L298.03 214.47 L297.87 215.00 L297.71 215.49 L297.53 215.95 L297.34 216.39 L297.14 216.81 L296.93 217.22 L296.72 217.61 L296.50 218.00 L296.28 218.36 L296.05 218.69 L295.81 218.98 L295.57 219.25 L295.32 219.50 L295.06 219.74 L294.78 219.97 L294.50 220.19 L294.20 220.42 L293.88 220.66 L293.55 220.92 L293.20 221.20 L292.85 221.49 L292.51 221.77 L292.17 222.05 L291.83 222.33 L291.48 222.61 L291.10 222.91 L290.69 223.21 L290.24 223.53 L289.75 223.86 L289.20 224.22 L288.59 224.59 L287.90 225.00 L287.13 225.44 L286.26 225.92 L285.32 226.44 L284.32 226.97 L283.27 227.53 L282.19 228.09 L281.09 228.66 L279.99 229.23 L278.89 229.78 L277.82 230.31 L276.78 230.82 L275.80 231.30 L274.85 231.75 L273.92 232.19 L272.99 232.62 L272.07 233.03 L271.17 233.43 L270.27 233.83 L269.38 234.21 L268.49 234.58 L267.61 234.95 L266.74 235.30 L265.87 235.66 L265.00 236.00 L264.14 236.34 L263.29 236.67 L262.44 236.99 L261.61 237.31 L260.78 237.61 L259.95 237.91 L259.13 238.20 L258.30 238.48 L257.48 238.75 L256.66 239.01 L255.83 239.26 L255.00 239.50 L254.17 239.73 L253.33 239.95 L252.49 240.16 L251.65 240.37 L250.81 240.56 L249.97 240.74 L249.13 240.92 L248.30 241.08 L247.46 241.23 L246.64 241.36 L245.82 241.49 L245.00 241.60 L244.17 241.69 L243.33 241.77 L242.47 241.83 L241.61 241.87 L240.75 241.91 L239.91 241.93 L239.08 241.95 L238.28 241.96 L237.51 241.97 L236.79 241.98 L236.12 241.99 L235.50 242.00 L234.94 242.10 L234.41 242.32 L233.92 242.63 L233.46 242.97 L233.04 243.32 L232.66 243.62 L232.30 243.83 L231.98 243.90 L231.69 243.80 L231.43 243.48 L231.20 242.89 L231.00 242.00 L230.83 240.69 L230.69 238.95 L230.58 236.86 L230.50 234.50 L230.45 231.97 L230.44 229.34 L230.45 226.71 L230.50 224.17 L230.58 221.79 L230.69 219.66 L230.83 217.87Z" fill="#e1e1e1"/>
<path d="M231.00 217.00 L231.22 216.12 L231.49 215.53 L231.81 215.18 L232.17 215.03 L232.56 215.05 L232.97 215.18 L233.40 215.40 L233.83 215.65 L234.27 215.90 L234.70 216.10 L235.11 216.21 L235.50 216.20 L235.87 216.11 L236.24 216.01 L236.61 215.90 L236.98 215.79 L237.35 215.68 L237.72 215.56 L238.09 215.44 L238.46 215.32 L238.84 215.19 L239.22 215.06 L239.61 214.93 L240.00 214.80 L240.39 214.67 L240.78 214.54 L241.16 214.42 L241.54 214.29 L241.93 214.16 L242.33 214.03 L242.73 213.88 L243.14 213.73 L243.58 213.57 L244.03 213.40 L244.50 213.21 L245.00 213.00 L245.52 212.78 L246.04 212.55 L246.58 212.31 L247.14 212.07 L247.71 211.81 L248.29 211.54 L248.90 211.25 L249.53 210.96 L250.18 210.64 L250.86 210.31 L251.57 209.97 L252.30 209.60 L253.08 209.20 L253.91 208.77 L254.79 208.31 L255.69 207.83 L256.62 207.33 L257.57 206.82 L258.52 206.32 L259.46 205.81 L260.39 205.32 L261.30 204.85 L262.17 204.41 L263.00 204.00 L263.79 203.61 L264.56 203.24 L265.30 202.87 L266.03 202.52 L266.74 202.18 L267.44 201.85 L268.14 201.54 L268.83 201.24 L269.51 200.95 L270.20 200.69 L270.90 200.43 L271.60 200.20 L272.31 199.99 L273.01 199.80 L273.72 199.63 L274.42 199.47 L275.12 199.34 L275.83 199.21 L276.52 199.10 L277.22 198.99 L277.92 198.89 L278.61 198.79 L279.31 198.70 L280.00 198.60 L280.70 198.50 L281.43 198.40 L282.16 198.31 L282.90 198.22 L283.64 198.14 L284.38 198.06 L285.09 197.99 L285.79 197.93 L286.45 197.88 L287.08 197.84 L287.66 197.82 L288.20 197.80 L288.69 197.79 L289.14 197.79 L289.55 197.79 L289.93 197.80 L290.28 197.82 L290.60 197.86 L290.90 197.90 L291.19 197.96 L291.45 198.04 L291.71 198.14 L291.96 198.26 L292.20 198.40 L292.43 198.56 L292.65 198.73 L292.85 198.92 L293.03 199.12 L293.20 199.34 L293.35 199.58 L293.49 199.84 L293.61 200.12 L293.73 200.43 L293.83 200.76 L293.92 201.11 L294.00 201.50 L294.07 201.92 L294.12 202.39 L294.16 202.90 L294.19 203.43 L294.20 203.99 L294.21 204.57 L294.20 205.15 L294.18 205.74 L294.15 206.33 L294.11 206.91 L294.06 207.47 L294.00 208.00 L293.93 208.52 L293.85 209.04 L293.76 209.56 L293.66 210.07 L293.54 210.59 L293.42 211.09 L293.29 211.60 L293.14 212.09 L292.99 212.58 L292.84 213.06 L292.67 213.54 L292.50 214.00 L292.32 214.45 L292.14 214.90 L291.96 215.34 L291.77 215.78 L291.57 216.20 L291.36 216.62 L291.13 217.04 L290.90 217.44 L290.65 217.84 L290.39 218.24 L290.10 218.62 L289.80 219.00 L289.49 219.36 L289.17 219.71 L288.85 220.03 L288.52 220.35 L288.17 220.66 L287.81 220.96 L287.42 221.27 L287.00 221.59 L286.56 221.91 L286.08 222.25 L285.56 222.61 L285.00 223.00 L284.39 223.41 L283.74 223.84 L283.05 224.29 L282.32 224.76 L281.56 225.23 L280.78 225.71 L279.97 226.20 L279.15 226.69 L278.32 227.18 L277.48 227.66 L276.64 228.14 L275.80 228.60 L274.95 229.06 L274.08 229.53 L273.19 230.00 L272.29 230.47 L271.37 230.94 L270.45 231.40 L269.52 231.86 L268.60 232.31 L267.68 232.75 L266.77 233.18 L265.88 233.60 L265.00 234.00 L264.14 234.39 L263.29 234.77 L262.44 235.13 L261.61 235.49 L260.78 235.84 L259.95 236.18 L259.13 236.51 L258.30 236.83 L257.48 237.14 L256.66 237.44 L255.83 237.72 L255.00 238.00 L254.17 238.27 L253.33 238.53 L252.49 238.77 L251.65 239.01 L250.81 239.24 L249.97 239.46 L249.13 239.67 L248.30 239.86 L247.46 240.04 L246.64 240.21 L245.82 240.36 L245.00 240.50 L244.17 240.62 L243.33 240.72 L242.47 240.80 L241.61 240.86 L240.75 240.92 L239.91 240.96 L239.08 240.99 L238.28 241.01 L237.51 241.04 L236.79 241.06 L236.12 241.08 L235.50 241.10 L234.94 241.20 L234.41 241.41 L233.92 241.71 L233.46 242.04 L233.04 242.36 L232.66 242.64 L232.30 242.84 L231.98 242.91 L231.69 242.81 L231.43 242.50 L231.20 241.95 L231.00 241.10 L230.83 239.86 L230.69 238.21 L230.58 236.22 L230.50 233.99 L230.45 231.59 L230.44 229.10 L230.45 226.61 L230.50 224.20 L230.58 221.95 L230.69 219.95 L230.83 218.27Z" fill="#d2d2d2"/>
<path d="M231.00 217.80 L231.20 216.99 L231.43 216.45 L231.69 216.16 L231.98 216.06 L232.30 216.12 L232.66 216.29 L233.04 216.53 L233.46 216.81 L233.92 217.07 L234.41 217.29 L234.94 217.41 L235.50 217.40 L236.12 217.30 L236.82 217.19 L237.57 217.08 L238.38 216.95 L239.22 216.81 L240.08 216.66 L240.94 216.51 L241.81 216.34 L242.66 216.17 L243.49 215.99 L244.27 215.80 L245.00 215.60 L245.68 215.40 L246.33 215.18 L246.95 214.96 L247.56 214.73 L248.14 214.49 L248.72 214.24 L249.29 213.98 L249.87 213.72 L250.45 213.45 L251.05 213.17 L251.66 212.89 L252.30 212.60 L252.96 212.30 L253.63 211.99 L254.30 211.67 L254.99 211.34 L255.68 211.01 L256.38 210.67 L257.08 210.32 L257.79 209.98 L258.51 209.63 L259.24 209.28 L259.96 208.94 L260.70 208.60 L261.44 208.26 L262.19 207.91 L262.95 207.56 L263.71 207.20 L264.48 206.84 L265.25 206.49 L266.03 206.14 L266.81 205.79 L267.60 205.45 L268.40 205.12 L269.20 204.80 L270.00 204.50 L270.82 204.21 L271.67 203.92 L272.54 203.63 L273.43 203.35 L274.32 203.08 L275.21 202.82 L276.08 202.57 L276.94 202.33 L277.76 202.10 L278.56 201.88 L279.30 201.68 L280.00 201.50 L280.64 201.34 L281.25 201.19 L281.81 201.06 L282.34 200.95 L282.85 200.85 L283.33 200.76 L283.79 200.67 L284.24 200.60 L284.69 200.52 L285.12 200.45 L285.56 200.38 L286.00 200.30 L286.45 200.22 L286.90 200.13 L287.35 200.04 L287.80 199.95 L288.23 199.87 L288.66 199.79 L289.06 199.72 L289.45 199.66 L289.81 199.62 L290.14 199.59 L290.44 199.58 L290.70 199.60 L290.93 199.64 L291.12 199.69 L291.29 199.76 L291.43 199.84 L291.54 199.93 L291.63 200.04 L291.70 200.17 L291.75 200.31 L291.79 200.46 L291.80 200.63 L291.81 200.81 L291.80 201.00 L291.78 201.20 L291.75 201.41 L291.70 201.62 L291.63 201.85 L291.55 202.09 L291.44 202.34 L291.32 202.62 L291.18 202.92 L291.02 203.24 L290.84 203.60 L290.63 203.98 L290.40 204.40 L290.14 204.86 L289.86 205.35 L289.55 205.88 L289.22 206.44 L288.87 207.03 L288.49 207.63 L288.11 208.26 L287.70 208.89 L287.29 209.54 L286.87 210.19 L286.44 210.85 L286.00 211.50 L285.56 212.16 L285.11 212.84 L284.65 213.54 L284.17 214.25 L283.69 214.97 L283.19 215.69 L282.68 216.42 L282.16 217.15 L281.62 217.88 L281.06 218.60 L280.49 219.30 L279.90 220.00 L279.29 220.69 L278.64 221.39 L277.98 222.08 L277.30 222.78 L276.60 223.47 L275.89 224.16 L275.17 224.83 L274.45 225.50 L273.73 226.15 L273.01 226.79 L272.30 227.40 L271.60 228.00 L270.91 228.58 L270.22 229.15 L269.53 229.70 L268.83 230.24 L268.14 230.77 L267.45 231.29 L266.76 231.79 L266.07 232.27 L265.38 232.73 L264.68 233.17 L263.99 233.60 L263.30 234.00 L262.61 234.38 L261.94 234.72 L261.26 235.05 L260.60 235.35 L259.93 235.63 L259.26 235.90 L258.58 236.16 L257.89 236.41 L257.19 236.65 L256.48 236.90 L255.75 237.15 L255.00 237.40 L254.22 237.66 L253.43 237.93 L252.61 238.20 L251.77 238.47 L250.93 238.73 L250.07 238.99 L249.22 239.23 L248.36 239.47 L247.50 239.68 L246.66 239.88 L245.82 240.05 L245.00 240.20 L244.17 240.32 L243.33 240.41 L242.47 240.48 L241.61 240.53 L240.75 240.56 L239.91 240.57 L239.08 240.58 L238.28 240.59 L237.51 240.58 L236.79 240.58 L236.12 240.59 L235.50 240.60 L234.94 240.69 L234.41 240.89 L233.92 241.16 L233.46 241.47 L233.04 241.78 L232.66 242.05 L232.30 242.24 L231.98 242.30 L231.69 242.21 L231.43 241.92 L231.20 241.40 L231.00 240.60 L230.83 239.43 L230.69 237.86 L230.58 235.98 L230.50 233.86 L230.45 231.58 L230.44 229.22 L230.45 226.87 L230.50 224.59 L230.58 222.46 L230.69 220.57 L230.83 218.99Z" fill="#b8b8b8"/>
<path d="M268.40 229.55 L268.35 230.25 L268.18 230.94 L267.91 231.63 L267.53 232.31 L267.05 232.97 L266.47 233.63 L265.78 234.26 L265.00 234.88 L264.12 235.47 L263.15 236.03 L262.10 236.57 L260.96 237.08 L259.75 237.56 L258.46 238.00 L257.11 238.41 L255.70 238.77 L254.23 239.10 L252.72 239.39 L251.16 239.63 L249.57 239.84 L247.96 240.00 L246.32 240.11 L244.66 240.18 L243.00 240.20 L241.34 240.18 L239.68 240.11 L238.04 240.00 L236.43 239.84 L234.84 239.63 L233.28 239.39 L231.77 239.10 L230.30 238.77 L228.89 238.41 L227.54 238.00 L226.25 237.56 L225.04 237.08 L223.90 236.57 L222.85 236.03 L221.88 235.47 L221.00 234.88 L220.22 234.26 L219.53 233.63 L218.95 232.97 L218.47 232.31 L218.09 231.63 L217.82 230.94 L217.65 230.25 L217.60 229.55 L217.65 228.85 L217.82 228.16 L218.09 227.47 L218.47 226.79 L218.95 226.13 L219.53 225.47 L220.22 224.84 L221.00 224.23 L221.88 223.63 L222.85 223.07 L223.90 222.53 L225.04 222.02 L226.25 221.54 L227.54 221.10 L228.89 220.69 L230.30 220.33 L231.77 220.00 L233.28 219.71 L234.84 219.47 L236.43 219.26 L238.04 219.10 L239.68 218.99 L241.34 218.92 L243.00 218.90 L244.66 218.92 L246.32 218.99 L247.96 219.10 L249.57 219.26 L251.16 219.47 L252.72 219.71 L254.23 220.00 L255.70 220.33 L257.11 220.69 L258.46 221.10 L259.75 221.54 L260.96 222.02 L262.10 222.53 L263.15 223.07 L264.12 223.63 L265.00 224.23 L265.78 224.84 L266.47 225.47 L267.05 226.13 L267.53 226.79 L267.91 227.47 L268.18 228.16 L268.35 228.85Z" fill="#aaaaaa"/>
<path d="M264.80 230.25 L264.75 230.85 L264.61 231.44 L264.38 232.04 L264.06 232.62 L263.64 233.19 L263.14 233.75 L262.55 234.30 L261.88 234.82 L261.13 235.33 L260.30 235.82 L259.39 236.28 L258.41 236.72 L257.37 237.13 L256.27 237.51 L255.11 237.86 L253.90 238.17 L252.64 238.46 L251.34 238.70 L250.01 238.91 L248.64 239.09 L247.25 239.22 L245.85 239.32 L244.43 239.38 L243.00 239.40 L241.57 239.38 L240.15 239.32 L238.75 239.22 L237.36 239.09 L235.99 238.91 L234.66 238.70 L233.36 238.46 L232.10 238.17 L230.89 237.86 L229.73 237.51 L228.63 237.13 L227.59 236.72 L226.61 236.28 L225.70 235.82 L224.87 235.33 L224.12 234.83 L223.45 234.30 L222.86 233.75 L222.36 233.19 L221.94 232.62 L221.62 232.04 L221.39 231.44 L221.25 230.85 L221.20 230.25 L221.25 229.65 L221.39 229.06 L221.62 228.46 L221.94 227.88 L222.36 227.31 L222.86 226.75 L223.45 226.20 L224.12 225.68 L224.87 225.17 L225.70 224.68 L226.61 224.22 L227.59 223.78 L228.63 223.37 L229.73 222.99 L230.89 222.64 L232.10 222.33 L233.36 222.04 L234.66 221.80 L235.99 221.59 L237.36 221.41 L238.75 221.28 L240.15 221.18 L241.57 221.12 L243.00 221.10 L244.43 221.12 L245.85 221.18 L247.25 221.28 L248.64 221.41 L250.01 221.59 L251.34 221.80 L252.64 222.04 L253.90 222.33 L255.11 222.64 L256.27 222.99 L257.37 223.37 L258.41 223.78 L259.39 224.22 L260.30 224.68 L261.13 225.17 L261.88 225.67 L262.55 226.20 L263.14 226.75 L263.64 227.31 L264.06 227.88 L264.38 228.46 L264.61 229.06 L264.75 229.65Z" fill="#949494"/>
<path d="M261.20 231.05 L261.16 231.55 L261.04 232.05 L260.85 232.54 L260.58 233.03 L260.23 233.51 L259.81 233.98 L259.32 234.43 L258.76 234.88 L258.13 235.30 L257.44 235.71 L256.68 236.09 L255.87 236.46 L255.00 236.80 L254.08 237.12 L253.11 237.41 L252.10 237.68 L251.05 237.91 L249.96 238.12 L248.85 238.29 L247.71 238.44 L246.55 238.55 L245.38 238.63 L244.19 238.68 L243.00 238.70 L241.81 238.68 L240.62 238.63 L239.45 238.55 L238.29 238.44 L237.15 238.29 L236.04 238.12 L234.95 237.91 L233.90 237.68 L232.89 237.41 L231.92 237.12 L231.00 236.80 L230.13 236.46 L229.32 236.09 L228.56 235.71 L227.87 235.30 L227.24 234.88 L226.68 234.43 L226.19 233.98 L225.77 233.51 L225.42 233.03 L225.15 232.54 L224.96 232.05 L224.84 231.55 L224.80 231.05 L224.84 230.55 L224.96 230.05 L225.15 229.56 L225.42 229.07 L225.77 228.59 L226.19 228.12 L226.68 227.67 L227.24 227.23 L227.87 226.80 L228.56 226.39 L229.32 226.01 L230.13 225.64 L231.00 225.30 L231.92 224.98 L232.89 224.69 L233.90 224.42 L234.95 224.19 L236.04 223.98 L237.15 223.81 L238.29 223.66 L239.45 223.55 L240.62 223.47 L241.81 223.42 L243.00 223.40 L244.19 223.42 L245.38 223.47 L246.55 223.55 L247.71 223.66 L248.85 223.81 L249.96 223.98 L251.05 224.19 L252.10 224.42 L253.11 224.69 L254.08 224.98 L255.00 225.30 L255.87 225.64 L256.68 226.01 L257.44 226.39 L258.13 226.80 L258.76 227.23 L259.32 227.67 L259.81 228.12 L260.23 228.59 L260.58 229.07 L260.85 229.56 L261.04 230.05 L261.16 230.55Z" fill="#7c7c7c"/>
<path d="M257.80 231.80 L257.77 232.20 L257.67 232.60 L257.52 232.99 L257.30 233.38 L257.01 233.76 L256.67 234.13 L256.27 234.50 L255.82 234.85 L255.31 235.19 L254.74 235.51 L254.13 235.82 L253.47 236.11 L252.76 236.39 L252.01 236.64 L251.22 236.87 L250.40 237.08 L249.55 237.27 L248.66 237.44 L247.76 237.58 L246.83 237.69 L245.89 237.78 L244.93 237.85 L243.97 237.89 L243.00 237.90 L242.03 237.89 L241.07 237.85 L240.11 237.78 L239.17 237.69 L238.24 237.58 L237.34 237.44 L236.45 237.27 L235.60 237.08 L234.78 236.87 L233.99 236.64 L233.24 236.39 L232.53 236.11 L231.87 235.82 L231.26 235.51 L230.69 235.19 L230.18 234.85 L229.73 234.50 L229.33 234.13 L228.99 233.76 L228.70 233.38 L228.48 232.99 L228.33 232.60 L228.23 232.20 L228.20 231.80 L228.23 231.40 L228.33 231.00 L228.48 230.61 L228.70 230.22 L228.99 229.84 L229.33 229.47 L229.73 229.10 L230.18 228.75 L230.69 228.41 L231.26 228.09 L231.87 227.78 L232.53 227.49 L233.24 227.21 L233.99 226.96 L234.78 226.73 L235.60 226.52 L236.45 226.33 L237.34 226.16 L238.24 226.02 L239.17 225.91 L240.11 225.82 L241.07 225.75 L242.03 225.71 L243.00 225.70 L243.97 225.71 L244.93 225.75 L245.89 225.82 L246.83 225.91 L247.76 226.02 L248.66 226.16 L249.55 226.33 L250.40 226.52 L251.22 226.73 L252.01 226.96 L252.76 227.21 L253.47 227.49 L254.13 227.78 L254.74 228.09 L255.31 228.41 L255.82 228.75 L256.27 229.10 L256.67 229.47 L257.01 229.84 L257.30 230.22 L257.52 230.61 L257.67 231.00 L257.77 231.40Z" fill="#646464"/>
<path d="M255.00 232.30 L254.97 232.61 L254.90 232.91 L254.77 233.22 L254.59 233.52 L254.36 233.81 L254.09 234.10 L253.76 234.38 L253.39 234.65 L252.98 234.91 L252.52 235.16 L252.02 235.40 L251.49 235.62 L250.91 235.83 L250.31 236.03 L249.67 236.21 L249.00 236.37 L248.31 236.52 L247.59 236.64 L246.86 236.75 L246.11 236.84 L245.34 236.91 L244.57 236.96 L243.78 236.99 L243.00 237.00 L242.22 236.99 L241.43 236.96 L240.66 236.91 L239.89 236.84 L239.14 236.75 L238.41 236.64 L237.69 236.52 L237.00 236.37 L236.33 236.21 L235.69 236.03 L235.09 235.83 L234.51 235.62 L233.98 235.40 L233.48 235.16 L233.02 234.91 L232.61 234.65 L232.24 234.38 L231.91 234.10 L231.64 233.81 L231.41 233.52 L231.23 233.22 L231.10 232.91 L231.03 232.61 L231.00 232.30 L231.03 231.99 L231.10 231.69 L231.23 231.38 L231.41 231.08 L231.64 230.79 L231.91 230.50 L232.24 230.22 L232.61 229.95 L233.02 229.69 L233.48 229.44 L233.98 229.20 L234.51 228.98 L235.09 228.77 L235.69 228.57 L236.33 228.39 L237.00 228.23 L237.69 228.08 L238.41 227.96 L239.14 227.85 L239.89 227.76 L240.66 227.69 L241.43 227.64 L242.22 227.61 L243.00 227.60 L243.78 227.61 L244.57 227.64 L245.34 227.69 L246.11 227.76 L246.86 227.85 L247.59 227.96 L248.31 228.08 L249.00 228.23 L249.67 228.39 L250.31 228.57 L250.91 228.77 L251.49 228.98 L252.02 229.20 L252.52 229.44 L252.98 229.69 L253.39 229.95 L253.76 230.22 L254.09 230.50 L254.36 230.79 L254.59 231.08 L254.77 231.38 L254.90 231.69 L254.97 231.99Z" fill="#4a4a4a"/>
<path d="M251.60 232.50 L251.58 232.73 L251.53 232.96 L251.43 233.18 L251.31 233.41 L251.14 233.63 L250.95 233.84 L250.71 234.05 L250.45 234.25 L250.15 234.44 L249.82 234.63 L249.47 234.81 L249.08 234.97 L248.67 235.13 L248.24 235.28 L247.78 235.41 L247.30 235.53 L246.80 235.64 L246.29 235.73 L245.76 235.81 L245.23 235.88 L244.68 235.93 L244.12 235.97 L243.56 235.99 L243.00 236.00 L242.44 235.99 L241.88 235.97 L241.32 235.93 L240.77 235.88 L240.24 235.81 L239.71 235.73 L239.20 235.64 L238.70 235.53 L238.22 235.41 L237.76 235.28 L237.33 235.13 L236.92 234.97 L236.53 234.81 L236.18 234.63 L235.85 234.44 L235.55 234.25 L235.29 234.05 L235.05 233.84 L234.86 233.63 L234.69 233.41 L234.57 233.18 L234.47 232.96 L234.42 232.73 L234.40 232.50 L234.42 232.27 L234.47 232.04 L234.57 231.82 L234.69 231.59 L234.86 231.37 L235.05 231.16 L235.29 230.95 L235.55 230.75 L235.85 230.56 L236.18 230.37 L236.53 230.19 L236.92 230.03 L237.33 229.87 L237.76 229.72 L238.22 229.59 L238.70 229.47 L239.20 229.36 L239.71 229.27 L240.24 229.19 L240.77 229.12 L241.32 229.07 L241.88 229.03 L242.44 229.01 L243.00 229.00 L243.56 229.01 L244.12 229.03 L244.68 229.07 L245.23 229.12 L245.76 229.19 L246.29 229.27 L246.80 229.36 L247.30 229.47 L247.78 229.59 L248.24 229.72 L248.67 229.87 L249.08 230.03 L249.47 230.19 L249.82 230.37 L250.15 230.56 L250.45 230.75 L250.71 230.95 L250.95 231.16 L251.14 231.37 L251.31 231.59 L251.43 231.82 L251.53 232.04 L251.58 232.27Z" fill="#303030"/>
<path d="M248.20 232.70 L248.19 232.85 L248.16 233.00 L248.10 233.15 L248.02 233.30 L247.92 233.44 L247.80 233.58 L247.66 233.72 L247.50 233.85 L247.32 233.98 L247.13 234.10 L246.91 234.22 L246.68 234.33 L246.43 234.43 L246.17 234.52 L245.89 234.61 L245.60 234.69 L245.30 234.76 L244.99 234.82 L244.67 234.88 L244.35 234.92 L244.01 234.96 L243.68 234.98 L243.34 235.00 L243.00 235.00 L242.66 235.00 L242.32 234.98 L241.99 234.96 L241.65 234.92 L241.33 234.88 L241.01 234.82 L240.70 234.76 L240.40 234.69 L240.11 234.61 L239.83 234.52 L239.57 234.43 L239.32 234.33 L239.09 234.22 L238.87 234.10 L238.68 233.98 L238.50 233.85 L238.34 233.72 L238.20 233.58 L238.08 233.44 L237.98 233.30 L237.90 233.15 L237.84 233.00 L237.81 232.85 L237.80 232.70 L237.81 232.55 L237.84 232.40 L237.90 232.25 L237.98 232.10 L238.08 231.96 L238.20 231.82 L238.34 231.68 L238.50 231.55 L238.68 231.42 L238.87 231.30 L239.09 231.18 L239.32 231.07 L239.57 230.97 L239.83 230.88 L240.11 230.79 L240.40 230.71 L240.70 230.64 L241.01 230.58 L241.33 230.52 L241.65 230.48 L241.99 230.44 L242.32 230.42 L242.66 230.40 L243.00 230.40 L243.34 230.40 L243.68 230.42 L244.01 230.44 L244.35 230.48 L244.67 230.52 L244.99 230.58 L245.30 230.64 L245.60 230.71 L245.89 230.79 L246.17 230.88 L246.43 230.97 L246.68 231.07 L246.91 231.18 L247.13 231.30 L247.32 231.42 L247.50 231.55 L247.66 231.68 L247.80 231.82 L247.92 231.96 L248.02 232.10 L248.10 232.25 L248.16 232.40 L248.19 232.55Z" fill="#161616"/>
<path d="M245.60 232.80 L245.59 232.89 L245.58 232.98 L245.55 233.07 L245.51 233.16 L245.46 233.25 L245.40 233.34 L245.33 233.42 L245.25 233.50 L245.16 233.58 L245.06 233.65 L244.95 233.72 L244.84 233.79 L244.71 233.85 L244.58 233.91 L244.44 233.96 L244.30 234.01 L244.15 234.06 L243.99 234.09 L243.84 234.13 L243.67 234.15 L243.51 234.17 L243.34 234.19 L243.17 234.20 L243.00 234.20 L242.83 234.20 L242.66 234.19 L242.49 234.17 L242.33 234.15 L242.16 234.13 L242.01 234.09 L241.85 234.06 L241.70 234.01 L241.56 233.96 L241.42 233.91 L241.29 233.85 L241.16 233.79 L241.05 233.72 L240.94 233.65 L240.84 233.58 L240.75 233.50 L240.67 233.42 L240.60 233.34 L240.54 233.25 L240.49 233.16 L240.45 233.07 L240.42 232.98 L240.41 232.89 L240.40 232.80 L240.41 232.71 L240.42 232.62 L240.45 232.53 L240.49 232.44 L240.54 232.35 L240.60 232.26 L240.67 232.18 L240.75 232.10 L240.84 232.02 L240.94 231.95 L241.05 231.88 L241.16 231.81 L241.29 231.75 L241.42 231.69 L241.56 231.64 L241.70 231.59 L241.85 231.54 L242.01 231.51 L242.16 231.47 L242.33 231.45 L242.49 231.43 L242.66 231.41 L242.83 231.40 L243.00 231.40 L243.17 231.40 L243.34 231.41 L243.51 231.43 L243.67 231.45 L243.84 231.47 L243.99 231.51 L244.15 231.54 L244.30 231.59 L244.44 231.64 L244.58 231.69 L244.71 231.75 L244.84 231.81 L244.95 231.88 L245.06 231.95 L245.16 232.02 L245.25 232.10 L245.33 232.18 L245.40 232.26 L245.46 232.35 L245.51 232.44 L245.55 232.53 L245.58 232.62 L245.59 232.71Z" fill="#040404"/>
</g>
<line x1="62.6" y1="117.4" x2="125.4" y2="83.0" stroke="#111" stroke-width="1.3" stroke-dasharray="3.6 2.9"/>
<line x1="235.6" y1="92.2" x2="299.6" y2="56.6" stroke="#111" stroke-width="1.3" stroke-dasharray="3.6 2.9"/>
<line x1="62.8" y1="267.0" x2="129.0" y2="231.8" stroke="#111" stroke-width="1.3" stroke-dasharray="3.6 2.9"/>
<line x1="235.8" y1="266.9" x2="301.0" y2="231.3" stroke="#111" stroke-width="1.3" stroke-dasharray="3.6 2.9"/>
<rect x="40.0" y="41.00" width="6.20" height="45.80" fill="#000000"/>
<rect x="40.0" y="43.29" width="6.20" height="43.51" fill="#0d0d0d"/>
<rect x="40.0" y="45.58" width="6.20" height="41.22" fill="#1b1b1b"/>
<rect x="40.0" y="47.87" width="6.20" height="38.93" fill="#282828"/>
<rect x="40.0" y="50.16" width="6.20" height="36.64" fill="#363636"/>
<rect x="40.0" y="52.45" width="6.20" height="34.35" fill="#434343"/>
<rect x="40.0" y="54.74" width="6.20" height="32.06" fill="#515151"/>
<rect x="40.0" y="57.03" width="6.20" height="29.77" fill="#5e5e5e"/>
<rect x="40.0" y="59.32" width="6.20" height="27.48" fill="#6b6b6b"/>
<rect x="40.0" y="61.61" width="6.20" height="25.19" fill="#797979"/>
<rect x="40.0" y="63.90" width="6.20" height="22.90" fill="#868686"/>
<rect x="40.0" y="66.19" width="6.20" height="20.61" fill="#949494"/>
<rect x="40.0" y="68.48" width="6.20" height="18.32" fill="#a1a1a1"/>
<rect x="40.0" y="70.77" width="6.20" height="16.03" fill="#aeaeae"/>
<rect x="40.0" y="73.06" width="6.20" height="13.74" fill="#bcbcbc"/>
<rect x="40.0" y="75.35" width="6.20" height="11.45" fill="#c9c9c9"/>
<rect x="40.0" y="77.64" width="6.20" height="9.16" fill="#d7d7d7"/>
<rect x="40.0" y="79.93" width="6.20" height="6.87" fill="#e4e4e4"/>
<rect x="40.0" y="82.22" width="6.20" height="4.58" fill="#f2f2f2"/>
<rect x="40.0" y="84.51" width="6.20" height="2.29" fill="#ffffff"/>
<rect x="40.0" y="41.0" width="6.20" height="45.80" fill="none" stroke="#555" stroke-width="0.5"/>
<text x="49.4" y="51.20" font-size="7.0" fill="#000">4.5</text>
<text x="49.4" y="60.20" font-size="7.0" fill="#000">3.5</text>
<text x="49.4" y="69.20" font-size="7.0" fill="#000">2.5</text>
<text x="49.4" y="78.20" font-size="7.0" fill="#000">1.5</text>
<text x="49.4" y="87.30" font-size="7.0" fill="#000">0.5</text>
<rect x="212.1" y="40.80" width="6.60" height="19.60" fill="#000000"/>
<rect x="212.1" y="43.25" width="6.60" height="17.15" fill="#242424"/>
<rect x="212.1" y="45.70" width="6.60" height="14.70" fill="#494949"/>
<rect x="212.1" y="48.15" width="6.60" height="12.25" fill="#6d6d6d"/>
<rect x="212.1" y="50.60" width="6.60" height="9.80" fill="#929292"/>
<rect x="212.1" y="53.05" width="6.60" height="7.35" fill="#b6b6b6"/>
<rect x="212.1" y="55.50" width="6.60" height="4.90" fill="#dbdbdb"/>
<rect x="212.1" y="57.95" width="6.60" height="2.45" fill="#ffffff"/>
<rect x="212.1" y="40.8" width="6.60" height="19.60" fill="none" stroke="#555" stroke-width="0.5"/>
<text x="221.0" y="50.80" font-size="7.6" fill="#000">0.3</text>
<text x="221.0" y="61.20" font-size="7.6" fill="#000">0.1</text>
<rect x="41.0" y="190.00" width="6.90" height="28.20" fill="#000000"/>
<rect x="41.0" y="193.53" width="6.90" height="24.67" fill="#242424"/>
<rect x="41.0" y="197.05" width="6.90" height="21.15" fill="#494949"/>
<rect x="41.0" y="200.57" width="6.90" height="17.62" fill="#6d6d6d"/>
<rect x="41.0" y="204.10" width="6.90" height="14.10" fill="#929292"/>
<rect x="41.0" y="207.62" width="6.90" height="10.57" fill="#b6b6b6"/>
<rect x="41.0" y="211.15" width="6.90" height="7.05" fill="#dbdbdb"/>
<rect x="41.0" y="214.67" width="6.90" height="3.52" fill="#ffffff"/>
<rect x="41.0" y="190.0" width="6.90" height="28.20" fill="none" stroke="#555" stroke-width="0.5"/>
<text x="49.4" y="199.30" font-size="7.6" fill="#000">0.5</text>
<text x="49.4" y="208.50" font-size="7.6" fill="#000">0.3</text>
<text x="49.4" y="218.10" font-size="7.6" fill="#000">0.1</text>
<rect x="213.8" y="189.80" width="6.10" height="51.30" fill="#000000"/>
<rect x="213.8" y="192.13" width="6.10" height="48.97" fill="#0c0c0c"/>
<rect x="213.8" y="194.46" width="6.10" height="46.64" fill="#181818"/>
<rect x="213.8" y="196.80" width="6.10" height="44.30" fill="#242424"/>
<rect x="213.8" y="199.13" width="6.10" height="41.97" fill="#313131"/>
<rect x="213.8" y="201.46" width="6.10" height="39.64" fill="#3d3d3d"/>
<rect x="213.8" y="203.79" width="6.10" height="37.31" fill="#494949"/>
<rect x="213.8" y="206.12" width="6.10" height="34.98" fill="#555555"/>
<rect x="213.8" y="208.45" width="6.10" height="32.65" fill="#616161"/>
<rect x="213.8" y="210.79" width="6.10" height="30.31" fill="#6d6d6d"/>
<rect x="213.8" y="213.12" width="6.10" height="27.98" fill="#797979"/>
<rect x="213.8" y="215.45" width="6.10" height="25.65" fill="#868686"/>
<rect x="213.8" y="217.78" width="6.10" height="23.32" fill="#929292"/>
<rect x="213.8" y="220.11" width="6.10" height="20.99" fill="#9e9e9e"/>
<rect x="213.8" y="222.45" width="6.10" height="18.65" fill="#aaaaaa"/>
<rect x="213.8" y="224.78" width="6.10" height="16.32" fill="#b6b6b6"/>
<rect x="213.8" y="227.11" width="6.10" height="13.99" fill="#c2c2c2"/>
<rect x="213.8" y="229.44" width="6.10" height="11.66" fill="#cecece"/>
<rect x="213.8" y="231.77" width="6.10" height="9.33" fill="#dbdbdb"/>
<rect x="213.8" y="234.10" width="6.10" height="7.00" fill="#e7e7e7"/>
<rect x="213.8" y="236.44" width="6.10" height="4.66" fill="#f3f3f3"/>
<rect x="213.8" y="238.77" width="6.10" height="2.33" fill="#ffffff"/>
<rect x="213.8" y="189.8" width="6.10" height="51.30" fill="none" stroke="#555" stroke-width="0.5"/>
<text x="221.4" y="195.30" font-size="7.4" fill="#000">5.5</text>
<text x="221.4" y="204.40" font-size="7.4" fill="#000">4.5</text>
<text x="221.4" y="213.60" font-size="7.4" fill="#000">3.5</text>
<text x="221.4" y="223.80" font-size="7.4" fill="#000">2.5</text>
<text x="221.4" y="232.70" font-size="7.4" fill="#000">1.5</text>
<text x="221.4" y="241.20" font-size="7.4" fill="#000">0.5</text>
<rect x="28.0" y="27.0" width="110.50" height="99.80" fill="none" stroke="#6a6a6a" stroke-width="0.9"/>
<path d="M28.00 126.80L28.00 123.80M39.09 126.80L39.09 125.20M45.57 126.80L45.57 125.20M50.18 126.80L50.18 125.20M53.75 126.80L53.75 125.20M56.66 126.80L56.66 125.20M59.13 126.80L59.13 125.20M61.26 126.80L61.26 125.20M63.15 126.80L63.15 125.20M64.83 126.80L64.83 123.80M75.92 126.80L75.92 125.20M82.41 126.80L82.41 125.20M87.01 126.80L87.01 125.20M90.58 126.80L90.58 125.20M93.50 126.80L93.50 125.20M95.96 126.80L95.96 125.20M98.10 126.80L98.10 125.20M99.98 126.80L99.98 125.20M101.67 126.80L101.67 123.80M112.75 126.80L112.75 125.20M119.24 126.80L119.24 125.20M123.84 126.80L123.84 125.20M127.41 126.80L127.41 125.20M130.33 126.80L130.33 125.20M132.79 126.80L132.79 125.20M134.93 126.80L134.93 125.20M136.81 126.80L136.81 125.20M138.50 126.80L138.50 123.80M28.30 27.00L28.30 28.60M30.77 27.00L30.77 28.60M32.90 27.00L32.90 28.60M34.79 27.00L34.79 28.60M36.47 27.00L36.47 30.00M47.56 27.00L47.56 28.60M54.05 27.00L54.05 28.60M58.65 27.00L58.65 28.60M62.22 27.00L62.22 28.60M65.13 27.00L65.13 28.60M67.60 27.00L67.60 28.60M69.74 27.00L69.74 28.60M71.62 27.00L71.62 28.60M73.31 27.00L73.31 30.00M84.39 27.00L84.39 28.60M90.88 27.00L90.88 28.60M95.48 27.00L95.48 28.60M99.05 27.00L99.05 28.60M101.97 27.00L101.97 28.60M104.43 27.00L104.43 28.60M106.57 27.00L106.57 28.60M108.45 27.00L108.45 28.60M110.14 27.00L110.14 30.00M121.23 27.00L121.23 28.60M127.71 27.00L127.71 28.60M132.31 27.00L132.31 28.60M135.88 27.00L135.88 28.60M28.00 126.80L31.00 126.80M28.00 120.79L29.60 120.79M28.00 117.28L29.60 117.28M28.00 114.78L29.60 114.78M28.00 112.85L29.60 112.85M28.00 111.27L29.60 111.27M28.00 109.93L29.60 109.93M28.00 108.77L29.60 108.77M28.00 107.75L29.60 107.75M28.00 106.84L31.00 106.84M28.00 100.83L29.60 100.83M28.00 97.32L29.60 97.32M28.00 94.82L29.60 94.82M28.00 92.89L29.60 92.89M28.00 91.31L29.60 91.31M28.00 89.97L29.60 89.97M28.00 88.81L29.60 88.81M28.00 87.79L29.60 87.79M28.00 86.88L31.00 86.88M28.00 80.87L29.60 80.87M28.00 77.36L29.60 77.36M28.00 74.86L29.60 74.86M28.00 72.93L29.60 72.93M28.00 71.35L29.60 71.35M28.00 70.01L29.60 70.01M28.00 68.85L29.60 68.85M28.00 67.83L29.60 67.83M28.00 66.92L31.00 66.92M28.00 60.91L29.60 60.91M28.00 57.40L29.60 57.40M28.00 54.90L29.60 54.90M28.00 52.97L29.60 52.97M28.00 51.39L29.60 51.39M28.00 50.05L29.60 50.05M28.00 48.89L29.60 48.89M28.00 47.87L29.60 47.87M28.00 46.96L31.00 46.96M28.00 40.95L29.60 40.95M28.00 37.44L29.60 37.44M28.00 34.94L29.60 34.94M28.00 33.01L29.60 33.01M28.00 31.43L29.60 31.43M28.00 30.09L29.60 30.09M28.00 28.93L29.60 28.93M28.00 27.91L29.60 27.91M28.00 27.00L31.00 27.00M138.50 126.64L136.90 126.64M138.50 125.30L136.90 125.30M138.50 124.14L136.90 124.14M138.50 123.12L136.90 123.12M138.50 122.21L135.50 122.21M138.50 116.20L136.90 116.20M138.50 112.69L136.90 112.69M138.50 110.19L136.90 110.19M138.50 108.26L136.90 108.26M138.50 106.68L136.90 106.68M138.50 105.34L136.90 105.34M138.50 104.18L136.90 104.18M138.50 103.16L136.90 103.16M138.50 102.25L135.50 102.25M138.50 96.24L136.90 96.24M138.50 92.73L136.90 92.73M138.50 90.23L136.90 90.23M138.50 88.30L136.90 88.30M138.50 86.72L136.90 86.72M138.50 85.38L136.90 85.38M138.50 84.22L136.90 84.22M138.50 83.20L136.90 83.20M138.50 82.29L135.50 82.29M138.50 76.28L136.90 76.28M138.50 72.77L136.90 72.77M138.50 70.27L136.90 70.27M138.50 68.34L136.90 68.34M138.50 66.76L136.90 66.76M138.50 65.42L136.90 65.42M138.50 64.26L136.90 64.26M138.50 63.24L136.90 63.24M138.50 62.33L135.50 62.33M138.50 56.32L136.90 56.32M138.50 52.81L136.90 52.81M138.50 50.31L136.90 50.31M138.50 48.38L136.90 48.38M138.50 46.80L136.90 46.80M138.50 45.46L136.90 45.46M138.50 44.30L136.90 44.30M138.50 43.28L136.90 43.28M138.50 42.37L135.50 42.37M138.50 36.36L136.90 36.36M138.50 32.85L136.90 32.85M138.50 30.35L136.90 30.35M138.50 28.42L136.90 28.42" stroke="#555" stroke-width="0.55" fill="none"/>
<g fill="#000"><text x="23.10" y="138.20" font-size="7.6">10</text><text x="30.20" y="134.50" font-size="5.4">1</text><text x="59.93" y="138.20" font-size="7.6">10</text><text x="67.03" y="134.50" font-size="5.4">2</text><text x="96.77" y="138.20" font-size="7.6">10</text><text x="103.87" y="134.50" font-size="5.4">3</text><text x="133.60" y="138.20" font-size="7.6">10</text><text x="140.70" y="134.50" font-size="5.4">4</text><text x="30.05" y="22.20" font-size="7.6">10</text><text x="37.15" y="18.50" font-size="5.4">−2</text><text x="66.88" y="22.20" font-size="7.6">10</text><text x="73.98" y="18.50" font-size="5.4">−1</text><text x="105.24" y="22.20" font-size="7.6">10</text><text x="112.34" y="18.50" font-size="5.4">0</text><text x="12.35" y="130.60" font-size="7.6">10</text><text x="19.45" y="126.90" font-size="5.4">−1</text><text x="15.40" y="110.64" font-size="7.6">10</text><text x="22.50" y="106.94" font-size="5.4">0</text><text x="15.40" y="90.68" font-size="7.6">10</text><text x="22.50" y="86.98" font-size="5.4">1</text><text x="15.40" y="70.72" font-size="7.6">10</text><text x="22.50" y="67.02" font-size="5.4">2</text><text x="15.40" y="50.76" font-size="7.6">10</text><text x="22.50" y="47.06" font-size="5.4">3</text><text x="15.40" y="30.80" font-size="7.6">10</text><text x="22.50" y="27.10" font-size="5.4">4</text><text x="141.00" y="125.51" font-size="7.6">10</text><text x="148.10" y="121.81" font-size="5.4">−4</text><text x="141.00" y="105.55" font-size="7.6">10</text><text x="148.10" y="101.85" font-size="5.4">−3</text><text x="141.00" y="85.59" font-size="7.6">10</text><text x="148.10" y="81.89" font-size="5.4">−2</text><text x="141.00" y="65.63" font-size="7.6">10</text><text x="148.10" y="61.93" font-size="5.4">−1</text><text x="141.00" y="45.67" font-size="7.6">10</text><text x="148.10" y="41.97" font-size="5.4">0</text></g>
<rect x="201.0" y="27.0" width="111.40" height="101.60" fill="none" stroke="#6a6a6a" stroke-width="0.9"/>
<path d="M201.00 128.60L201.00 125.60M212.18 128.60L212.18 127.00M218.72 128.60L218.72 127.00M223.36 128.60L223.36 127.00M226.96 128.60L226.96 127.00M229.90 128.60L229.90 127.00M232.38 128.60L232.38 127.00M234.53 128.60L234.53 127.00M236.43 128.60L236.43 127.00M238.13 128.60L238.13 125.60M249.31 128.60L249.31 127.00M255.85 128.60L255.85 127.00M260.49 128.60L260.49 127.00M264.09 128.60L264.09 127.00M267.03 128.60L267.03 127.00M269.51 128.60L269.51 127.00M271.67 128.60L271.67 127.00M273.57 128.60L273.57 127.00M275.27 128.60L275.27 125.60M286.44 128.60L286.44 127.00M292.98 128.60L292.98 127.00M297.62 128.60L297.62 127.00M301.22 128.60L301.22 127.00M304.16 128.60L304.16 127.00M306.65 128.60L306.65 127.00M308.80 128.60L308.80 127.00M310.70 128.60L310.70 127.00M312.40 128.60L312.40 125.60M201.30 27.00L201.30 28.60M203.79 27.00L203.79 28.60M205.94 27.00L205.94 28.60M207.84 27.00L207.84 28.60M209.54 27.00L209.54 30.00M220.72 27.00L220.72 28.60M227.26 27.00L227.26 28.60M231.90 27.00L231.90 28.60M235.50 27.00L235.50 28.60M238.44 27.00L238.44 28.60M240.92 27.00L240.92 28.60M243.08 27.00L243.08 28.60M244.97 27.00L244.97 28.60M246.67 27.00L246.67 30.00M257.85 27.00L257.85 28.60M264.39 27.00L264.39 28.60M269.03 27.00L269.03 28.60M272.63 27.00L272.63 28.60M275.57 27.00L275.57 28.60M278.06 27.00L278.06 28.60M280.21 27.00L280.21 28.60M282.11 27.00L282.11 28.60M283.81 27.00L283.81 30.00M294.99 27.00L294.99 28.60M301.52 27.00L301.52 28.60M306.16 27.00L306.16 28.60M309.76 27.00L309.76 28.60M201.00 128.60L204.00 128.60M201.00 122.48L202.60 122.48M201.00 118.90L202.60 118.90M201.00 116.37L202.60 116.37M201.00 114.40L202.60 114.40M201.00 112.79L202.60 112.79M201.00 111.43L202.60 111.43M201.00 110.25L202.60 110.25M201.00 109.21L202.60 109.21M201.00 108.28L204.00 108.28M201.00 102.16L202.60 102.16M201.00 98.58L202.60 98.58M201.00 96.05L202.60 96.05M201.00 94.08L202.60 94.08M201.00 92.47L202.60 92.47M201.00 91.11L202.60 91.11M201.00 89.93L202.60 89.93M201.00 88.89L202.60 88.89M201.00 87.96L204.00 87.96M201.00 81.84L202.60 81.84M201.00 78.26L202.60 78.26M201.00 75.73L202.60 75.73M201.00 73.76L202.60 73.76M201.00 72.15L202.60 72.15M201.00 70.79L202.60 70.79M201.00 69.61L202.60 69.61M201.00 68.57L202.60 68.57M201.00 67.64L204.00 67.64M201.00 61.52L202.60 61.52M201.00 57.94L202.60 57.94M201.00 55.41L202.60 55.41M201.00 53.44L202.60 53.44M201.00 51.83L202.60 51.83M201.00 50.47L202.60 50.47M201.00 49.29L202.60 49.29M201.00 48.25L202.60 48.25M201.00 47.32L204.00 47.32M201.00 41.20L202.60 41.20M201.00 37.62L202.60 37.62M201.00 35.09L202.60 35.09M201.00 33.12L202.60 33.12M201.00 31.51L202.60 31.51M201.00 30.15L202.60 30.15M201.00 28.97L202.60 28.97M201.00 27.93L202.60 27.93M201.00 27.00L204.00 27.00M312.40 128.43L310.80 128.43M312.40 127.07L310.80 127.07M312.40 125.90L310.80 125.90M312.40 124.86L310.80 124.86M312.40 123.93L309.40 123.93M312.40 117.81L310.80 117.81M312.40 114.23L310.80 114.23M312.40 111.69L310.80 111.69M312.40 109.72L310.80 109.72M312.40 108.11L310.80 108.11M312.40 106.75L310.80 106.75M312.40 105.58L310.80 105.58M312.40 104.54L310.80 104.54M312.40 103.61L309.40 103.61M312.40 97.49L310.80 97.49M312.40 93.91L310.80 93.91M312.40 91.37L310.80 91.37M312.40 89.40L310.80 89.40M312.40 87.79L310.80 87.79M312.40 86.43L310.80 86.43M312.40 85.26L310.80 85.26M312.40 84.22L310.80 84.22M312.40 83.29L309.40 83.29M312.40 77.17L310.80 77.17M312.40 73.59L310.80 73.59M312.40 71.05L310.80 71.05M312.40 69.08L310.80 69.08M312.40 67.47L310.80 67.47M312.40 66.11L310.80 66.11M312.40 64.94L310.80 64.94M312.40 63.90L310.80 63.90M312.40 62.97L309.40 62.97M312.40 56.85L310.80 56.85M312.40 53.27L310.80 53.27M312.40 50.73L310.80 50.73M312.40 48.76L310.80 48.76M312.40 47.15L310.80 47.15M312.40 45.79L310.80 45.79M312.40 44.62L310.80 44.62M312.40 43.58L310.80 43.58M312.40 42.65L309.40 42.65M312.40 36.53L310.80 36.53M312.40 32.95L310.80 32.95M312.40 30.41L310.80 30.41M312.40 28.44L310.80 28.44" stroke="#555" stroke-width="0.55" fill="none"/>
<g fill="#000"><text x="196.10" y="140.00" font-size="7.6">10</text><text x="203.20" y="136.30" font-size="5.4">1</text><text x="233.23" y="140.00" font-size="7.6">10</text><text x="240.33" y="136.30" font-size="5.4">2</text><text x="270.37" y="140.00" font-size="7.6">10</text><text x="277.47" y="136.30" font-size="5.4">3</text><text x="307.50" y="140.00" font-size="7.6">10</text><text x="314.60" y="136.30" font-size="5.4">4</text><text x="203.12" y="22.20" font-size="7.6">10</text><text x="210.22" y="18.50" font-size="5.4">−2</text><text x="240.25" y="22.20" font-size="7.6">10</text><text x="247.35" y="18.50" font-size="5.4">−1</text><text x="278.91" y="22.20" font-size="7.6">10</text><text x="286.01" y="18.50" font-size="5.4">0</text><text x="185.35" y="132.40" font-size="7.6">10</text><text x="192.45" y="128.70" font-size="5.4">−1</text><text x="188.40" y="112.08" font-size="7.6">10</text><text x="195.50" y="108.38" font-size="5.4">0</text><text x="188.40" y="91.76" font-size="7.6">10</text><text x="195.50" y="88.06" font-size="5.4">1</text><text x="188.40" y="71.44" font-size="7.6">10</text><text x="195.50" y="67.74" font-size="5.4">2</text><text x="188.40" y="51.12" font-size="7.6">10</text><text x="195.50" y="47.42" font-size="5.4">3</text><text x="188.40" y="30.80" font-size="7.6">10</text><text x="195.50" y="27.10" font-size="5.4">4</text><text x="317.00" y="126.53" font-size="7.6">10</text><text x="324.10" y="122.83" font-size="5.4">−4</text><text x="317.00" y="106.21" font-size="7.6">10</text><text x="324.10" y="102.51" font-size="5.4">−3</text><text x="317.00" y="85.89" font-size="7.6">10</text><text x="324.10" y="82.19" font-size="5.4">−2</text><text x="317.00" y="65.57" font-size="7.6">10</text><text x="324.10" y="61.87" font-size="5.4">−1</text><text x="317.00" y="45.25" font-size="7.6">10</text><text x="324.10" y="41.55" font-size="5.4">0</text></g>
<rect x="29.2" y="175.4" width="111.80" height="101.60" fill="none" stroke="#6a6a6a" stroke-width="0.9"/>
<path d="M29.20 277.00L29.20 274.00M40.42 277.00L40.42 275.40M46.98 277.00L46.98 275.40M51.64 277.00L51.64 275.40M55.25 277.00L55.25 275.40M58.20 277.00L58.20 275.40M60.69 277.00L60.69 275.40M62.86 277.00L62.86 275.40M64.76 277.00L64.76 275.40M66.47 277.00L66.47 274.00M77.69 277.00L77.69 275.40M84.25 277.00L84.25 275.40M88.90 277.00L88.90 275.40M92.51 277.00L92.51 275.40M95.47 277.00L95.47 275.40M97.96 277.00L97.96 275.40M100.12 277.00L100.12 275.40M102.03 277.00L102.03 275.40M103.73 277.00L103.73 274.00M114.95 277.00L114.95 275.40M121.51 277.00L121.51 275.40M126.17 277.00L126.17 275.40M129.78 277.00L129.78 275.40M132.73 277.00L132.73 275.40M135.23 277.00L135.23 275.40M137.39 277.00L137.39 275.40M139.29 277.00L139.29 275.40M141.00 277.00L141.00 274.00M29.50 175.40L29.50 177.00M32.00 175.40L32.00 177.00M34.16 175.40L34.16 177.00M36.07 175.40L36.07 177.00M37.77 175.40L37.77 178.40M48.99 175.40L48.99 177.00M55.55 175.40L55.55 177.00M60.21 175.40L60.21 177.00M63.82 175.40L63.82 177.00M66.77 175.40L66.77 177.00M69.27 175.40L69.27 177.00M71.43 175.40L71.43 177.00M73.33 175.40L73.33 177.00M75.04 175.40L75.04 178.40M86.26 175.40L86.26 177.00M92.82 175.40L92.82 177.00M97.47 175.40L97.47 177.00M101.09 175.40L101.09 177.00M104.04 175.40L104.04 177.00M106.53 175.40L106.53 177.00M108.69 175.40L108.69 177.00M110.60 175.40L110.60 177.00M112.30 175.40L112.30 178.40M123.52 175.40L123.52 177.00M130.09 175.40L130.09 177.00M134.74 175.40L134.74 177.00M138.35 175.40L138.35 177.00M29.20 277.00L32.20 277.00M29.20 270.88L30.80 270.88M29.20 267.30L30.80 267.30M29.20 264.77L30.80 264.77M29.20 262.80L30.80 262.80M29.20 261.19L30.80 261.19M29.20 259.83L30.80 259.83M29.20 258.65L30.80 258.65M29.20 257.61L30.80 257.61M29.20 256.68L32.20 256.68M29.20 250.56L30.80 250.56M29.20 246.98L30.80 246.98M29.20 244.45L30.80 244.45M29.20 242.48L30.80 242.48M29.20 240.87L30.80 240.87M29.20 239.51L30.80 239.51M29.20 238.33L30.80 238.33M29.20 237.29L30.80 237.29M29.20 236.36L32.20 236.36M29.20 230.24L30.80 230.24M29.20 226.66L30.80 226.66M29.20 224.13L30.80 224.13M29.20 222.16L30.80 222.16M29.20 220.55L30.80 220.55M29.20 219.19L30.80 219.19M29.20 218.01L30.80 218.01M29.20 216.97L30.80 216.97M29.20 216.04L32.20 216.04M29.20 209.92L30.80 209.92M29.20 206.34L30.80 206.34M29.20 203.81L30.80 203.81M29.20 201.84L30.80 201.84M29.20 200.23L30.80 200.23M29.20 198.87L30.80 198.87M29.20 197.69L30.80 197.69M29.20 196.65L30.80 196.65M29.20 195.72L32.20 195.72M29.20 189.60L30.80 189.60M29.20 186.02L30.80 186.02M29.20 183.49L30.80 183.49M29.20 181.52L30.80 181.52M29.20 179.91L30.80 179.91M29.20 178.55L30.80 178.55M29.20 177.37L30.80 177.37M29.20 176.33L30.80 176.33M29.20 175.40L32.20 175.40M141.00 276.83L139.40 276.83M141.00 275.47L139.40 275.47M141.00 274.30L139.40 274.30M141.00 273.26L139.40 273.26M141.00 272.33L138.00 272.33M141.00 266.21L139.40 266.21M141.00 262.63L139.40 262.63M141.00 260.09L139.40 260.09M141.00 258.12L139.40 258.12M141.00 256.51L139.40 256.51M141.00 255.15L139.40 255.15M141.00 253.98L139.40 253.98M141.00 252.94L139.40 252.94M141.00 252.01L138.00 252.01M141.00 245.89L139.40 245.89M141.00 242.31L139.40 242.31M141.00 239.77L139.40 239.77M141.00 237.80L139.40 237.80M141.00 236.19L139.40 236.19M141.00 234.83L139.40 234.83M141.00 233.66L139.40 233.66M141.00 232.62L139.40 232.62M141.00 231.69L138.00 231.69M141.00 225.57L139.40 225.57M141.00 221.99L139.40 221.99M141.00 219.45L139.40 219.45M141.00 217.48L139.40 217.48M141.00 215.87L139.40 215.87M141.00 214.51L139.40 214.51M141.00 213.34L139.40 213.34M141.00 212.30L139.40 212.30M141.00 211.37L138.00 211.37M141.00 205.25L139.40 205.25M141.00 201.67L139.40 201.67M141.00 199.13L139.40 199.13M141.00 197.16L139.40 197.16M141.00 195.55L139.40 195.55M141.00 194.19L139.40 194.19M141.00 193.02L139.40 193.02M141.00 191.98L139.40 191.98M141.00 191.05L138.00 191.05M141.00 184.93L139.40 184.93M141.00 181.35L139.40 181.35M141.00 178.81L139.40 178.81M141.00 176.84L139.40 176.84" stroke="#555" stroke-width="0.55" fill="none"/>
<g fill="#000"><text x="24.30" y="287.20" font-size="7.6">10</text><text x="31.40" y="283.50" font-size="5.4">1</text><text x="61.57" y="287.20" font-size="7.6">10</text><text x="68.67" y="283.50" font-size="5.4">2</text><text x="98.83" y="287.20" font-size="7.6">10</text><text x="105.93" y="283.50" font-size="5.4">3</text><text x="136.10" y="287.20" font-size="7.6">10</text><text x="143.20" y="283.50" font-size="5.4">4</text><text x="31.35" y="172.50" font-size="7.6">10</text><text x="38.45" y="168.80" font-size="5.4">−2</text><text x="68.62" y="172.50" font-size="7.6">10</text><text x="75.72" y="168.80" font-size="5.4">−1</text><text x="107.40" y="172.50" font-size="7.6">10</text><text x="114.50" y="168.80" font-size="5.4">0</text><text x="13.55" y="280.80" font-size="7.6">10</text><text x="20.65" y="277.10" font-size="5.4">−1</text><text x="16.60" y="260.48" font-size="7.6">10</text><text x="23.70" y="256.78" font-size="5.4">0</text><text x="16.60" y="240.16" font-size="7.6">10</text><text x="23.70" y="236.46" font-size="5.4">1</text><text x="16.60" y="219.84" font-size="7.6">10</text><text x="23.70" y="216.14" font-size="5.4">2</text><text x="16.60" y="199.52" font-size="7.6">10</text><text x="23.70" y="195.82" font-size="5.4">3</text><text x="16.60" y="179.20" font-size="7.6">10</text><text x="23.70" y="175.50" font-size="5.4">4</text><text x="143.50" y="277.23" font-size="7.6">10</text><text x="150.60" y="273.53" font-size="5.4">−4</text><text x="143.50" y="256.91" font-size="7.6">10</text><text x="150.60" y="253.21" font-size="5.4">−3</text><text x="143.50" y="236.59" font-size="7.6">10</text><text x="150.60" y="232.89" font-size="5.4">−2</text><text x="143.50" y="216.27" font-size="7.6">10</text><text x="150.60" y="212.57" font-size="5.4">−1</text><text x="143.50" y="195.95" font-size="7.6">10</text><text x="150.60" y="192.25" font-size="5.4">0</text></g>
<rect x="201.8" y="175.4" width="110.50" height="100.10" fill="none" stroke="#6a6a6a" stroke-width="0.9"/>
<path d="M201.80 275.50L201.80 272.50M212.89 275.50L212.89 273.90M219.37 275.50L219.37 273.90M223.98 275.50L223.98 273.90M227.55 275.50L227.55 273.90M230.46 275.50L230.46 273.90M232.93 275.50L232.93 273.90M235.06 275.50L235.06 273.90M236.95 275.50L236.95 273.90M238.63 275.50L238.63 272.50M249.72 275.50L249.72 273.90M256.21 275.50L256.21 273.90M260.81 275.50L260.81 273.90M264.38 275.50L264.38 273.90M267.30 275.50L267.30 273.90M269.76 275.50L269.76 273.90M271.90 275.50L271.90 273.90M273.78 275.50L273.78 273.90M275.47 275.50L275.47 272.50M286.55 275.50L286.55 273.90M293.04 275.50L293.04 273.90M297.64 275.50L297.64 273.90M301.21 275.50L301.21 273.90M304.13 275.50L304.13 273.90M306.59 275.50L306.59 273.90M308.73 275.50L308.73 273.90M310.61 275.50L310.61 273.90M312.30 275.50L312.30 272.50M202.10 175.40L202.10 177.00M204.57 175.40L204.57 177.00M206.70 175.40L206.70 177.00M208.59 175.40L208.59 177.00M210.27 175.40L210.27 178.40M221.36 175.40L221.36 177.00M227.85 175.40L227.85 177.00M232.45 175.40L232.45 177.00M236.02 175.40L236.02 177.00M238.93 175.40L238.93 177.00M241.40 175.40L241.40 177.00M243.54 175.40L243.54 177.00M245.42 175.40L245.42 177.00M247.11 175.40L247.11 178.40M258.19 175.40L258.19 177.00M264.68 175.40L264.68 177.00M269.28 175.40L269.28 177.00M272.85 175.40L272.85 177.00M275.77 175.40L275.77 177.00M278.23 175.40L278.23 177.00M280.37 175.40L280.37 177.00M282.25 175.40L282.25 177.00M283.94 175.40L283.94 178.40M295.03 175.40L295.03 177.00M301.51 175.40L301.51 177.00M306.11 175.40L306.11 177.00M309.68 175.40L309.68 177.00M201.80 275.50L204.80 275.50M201.80 269.47L203.40 269.47M201.80 265.95L203.40 265.95M201.80 263.45L203.40 263.45M201.80 261.51L203.40 261.51M201.80 259.92L203.40 259.92M201.80 258.58L203.40 258.58M201.80 257.42L203.40 257.42M201.80 256.40L203.40 256.40M201.80 255.48L204.80 255.48M201.80 249.45L203.40 249.45M201.80 245.93L203.40 245.93M201.80 243.43L203.40 243.43M201.80 241.49L203.40 241.49M201.80 239.90L203.40 239.90M201.80 238.56L203.40 238.56M201.80 237.40L203.40 237.40M201.80 236.38L203.40 236.38M201.80 235.46L204.80 235.46M201.80 229.43L203.40 229.43M201.80 225.91L203.40 225.91M201.80 223.41L203.40 223.41M201.80 221.47L203.40 221.47M201.80 219.88L203.40 219.88M201.80 218.54L203.40 218.54M201.80 217.38L203.40 217.38M201.80 216.36L203.40 216.36M201.80 215.44L204.80 215.44M201.80 209.41L203.40 209.41M201.80 205.89L203.40 205.89M201.80 203.39L203.40 203.39M201.80 201.45L203.40 201.45M201.80 199.86L203.40 199.86M201.80 198.52L203.40 198.52M201.80 197.36L203.40 197.36M201.80 196.34L203.40 196.34M201.80 195.42L204.80 195.42M201.80 189.39L203.40 189.39M201.80 185.87L203.40 185.87M201.80 183.37L203.40 183.37M201.80 181.43L203.40 181.43M201.80 179.84L203.40 179.84M201.80 178.50L203.40 178.50M201.80 177.34L203.40 177.34M201.80 176.32L203.40 176.32M201.80 175.40L204.80 175.40M312.30 275.34L310.70 275.34M312.30 274.00L310.70 274.00M312.30 272.84L310.70 272.84M312.30 271.81L310.70 271.81M312.30 270.90L309.30 270.90M312.30 264.87L310.70 264.87M312.30 261.34L310.70 261.34M312.30 258.84L310.70 258.84M312.30 256.90L310.70 256.90M312.30 255.32L310.70 255.32M312.30 253.98L310.70 253.98M312.30 252.82L310.70 252.82M312.30 251.79L310.70 251.79M312.30 250.88L309.30 250.88M312.30 244.85L310.70 244.85M312.30 241.32L310.70 241.32M312.30 238.82L310.70 238.82M312.30 236.88L310.70 236.88M312.30 235.30L310.70 235.30M312.30 233.96L310.70 233.96M312.30 232.80L310.70 232.80M312.30 231.77L310.70 231.77M312.30 230.86L309.30 230.86M312.30 224.83L310.70 224.83M312.30 221.30L310.70 221.30M312.30 218.80L310.70 218.80M312.30 216.86L310.70 216.86M312.30 215.28L310.70 215.28M312.30 213.94L310.70 213.94M312.30 212.78L310.70 212.78M312.30 211.75L310.70 211.75M312.30 210.84L309.30 210.84M312.30 204.81L310.70 204.81M312.30 201.28L310.70 201.28M312.30 198.78L310.70 198.78M312.30 196.84L310.70 196.84M312.30 195.26L310.70 195.26M312.30 193.92L310.70 193.92M312.30 192.76L310.70 192.76M312.30 191.73L310.70 191.73M312.30 190.82L309.30 190.82M312.30 184.79L310.70 184.79M312.30 181.26L310.70 181.26M312.30 178.76L310.70 178.76M312.30 176.82L310.70 176.82" stroke="#555" stroke-width="0.55" fill="none"/>
<g fill="#000"><text x="196.90" y="285.70" font-size="7.6">10</text><text x="204.00" y="282.00" font-size="5.4">1</text><text x="233.73" y="285.70" font-size="7.6">10</text><text x="240.83" y="282.00" font-size="5.4">2</text><text x="270.57" y="285.70" font-size="7.6">10</text><text x="277.67" y="282.00" font-size="5.4">3</text><text x="307.40" y="285.70" font-size="7.6">10</text><text x="314.50" y="282.00" font-size="5.4">4</text><text x="203.85" y="172.50" font-size="7.6">10</text><text x="210.95" y="168.80" font-size="5.4">−2</text><text x="240.68" y="172.50" font-size="7.6">10</text><text x="247.78" y="168.80" font-size="5.4">−1</text><text x="279.04" y="172.50" font-size="7.6">10</text><text x="286.14" y="168.80" font-size="5.4">0</text><text x="186.15" y="279.30" font-size="7.6">10</text><text x="193.25" y="275.60" font-size="5.4">−1</text><text x="189.20" y="259.28" font-size="7.6">10</text><text x="196.30" y="255.58" font-size="5.4">0</text><text x="189.20" y="239.26" font-size="7.6">10</text><text x="196.30" y="235.56" font-size="5.4">1</text><text x="189.20" y="219.24" font-size="7.6">10</text><text x="196.30" y="215.54" font-size="5.4">2</text><text x="189.20" y="199.22" font-size="7.6">10</text><text x="196.30" y="195.52" font-size="5.4">3</text><text x="189.20" y="179.20" font-size="7.6">10</text><text x="196.30" y="175.50" font-size="5.4">4</text><text x="314.80" y="274.20" font-size="7.6">10</text><text x="321.90" y="270.50" font-size="5.4">−4</text><text x="314.80" y="254.18" font-size="7.6">10</text><text x="321.90" y="250.48" font-size="5.4">−3</text><text x="314.80" y="234.16" font-size="7.6">10</text><text x="321.90" y="230.46" font-size="5.4">−2</text><text x="314.80" y="214.14" font-size="7.6">10</text><text x="321.90" y="210.44" font-size="5.4">−1</text><text x="314.80" y="194.12" font-size="7.6">10</text><text x="321.90" y="190.42" font-size="5.4">0</text></g>
<text x="104.3" y="103.0" font-size="7.0" fill="#000"><tspan font-style="italic">λ</tspan><tspan font-size="4.55" font-style="italic" dy="1.2">z</tspan><tspan dy="-1.2"> = 300</tspan><tspan font-style="italic">y</tspan></text>
<text x="283.0" y="73.5" font-size="7.0" fill="#000"><tspan font-style="italic">λ</tspan><tspan font-size="4.55" font-style="italic" dy="1.2">z</tspan><tspan dy="-1.2"> = 14</tspan><tspan font-style="italic">y</tspan></text>
<text x="110.1" y="251.6" font-size="7.0" fill="#000"><tspan font-style="italic">λ</tspan><tspan font-size="4.55" font-style="italic" dy="1.2">z</tspan><tspan dy="-1.2"> = 300</tspan><tspan font-style="italic">y</tspan></text>
<text x="280.1" y="251.4" font-size="7.0" fill="#000"><tspan font-style="italic">λ</tspan><tspan font-size="4.55" font-style="italic" dy="1.2">z</tspan><tspan dy="-1.2"> = 300</tspan><tspan font-style="italic">y</tspan></text>
<g fill="#000" font-size="8.9" letter-spacing="0.25">
<text x="0.5" y="8.6">(<tspan font-style="italic">a</tspan>)</text>
<text x="168.3" y="8.6">(<tspan font-style="italic">b</tspan>)</text>
<text x="0.5" y="178.4">(<tspan font-style="italic">c</tspan>)</text>
<text x="168.3" y="178.4">(<tspan font-style="italic">d</tspan>)</text>
</g>
<text x="77.0" y="9.6" font-size="9.3" font-style="italic" fill="#000" letter-spacing="0.3">λ<tspan font-size="5.6" dy="1.6">z</tspan><tspan dx="1.2" dy="-1.6">/h</tspan></text>
<text x="250.3" y="9.6" font-size="9.3" font-style="italic" fill="#000" letter-spacing="0.3">λ<tspan font-size="5.6" dy="1.6">z</tspan><tspan dx="1.2" dy="-1.6">/h</tspan></text>
<text x="1.6" y="81.0" font-size="9.5" font-style="italic" fill="#000">y<tspan font-size="7" dx="0.6" dy="-2.9" font-style="normal">+</tspan></text>
<text x="1.6" y="229.8" font-size="9.5" font-style="italic" fill="#000">y<tspan font-size="7" dx="0.6" dy="-2.9" font-style="normal">+</tspan></text>
<text x="337.2" y="81.2" font-size="10.4" font-style="italic" fill="#000">y/h</text>
<text x="337.2" y="229.2" font-size="10.4" font-style="italic" fill="#000">y/h</text>
<text x="79.6" y="298.6" font-size="9.5" font-style="italic" fill="#000">λ<tspan font-size="5.8" dy="1.6">z</tspan><tspan font-size="7" font-style="normal" dx="-1.6" dy="-5.4">+</tspan></text>
<text x="252.4" y="298.3" font-size="9.5" font-style="italic" fill="#000">λ<tspan font-size="5.8" dy="1.6">z</tspan><tspan font-size="7" font-style="normal" dx="-1.6" dy="-5.4">+</tspan></text>
</svg></body></html>
